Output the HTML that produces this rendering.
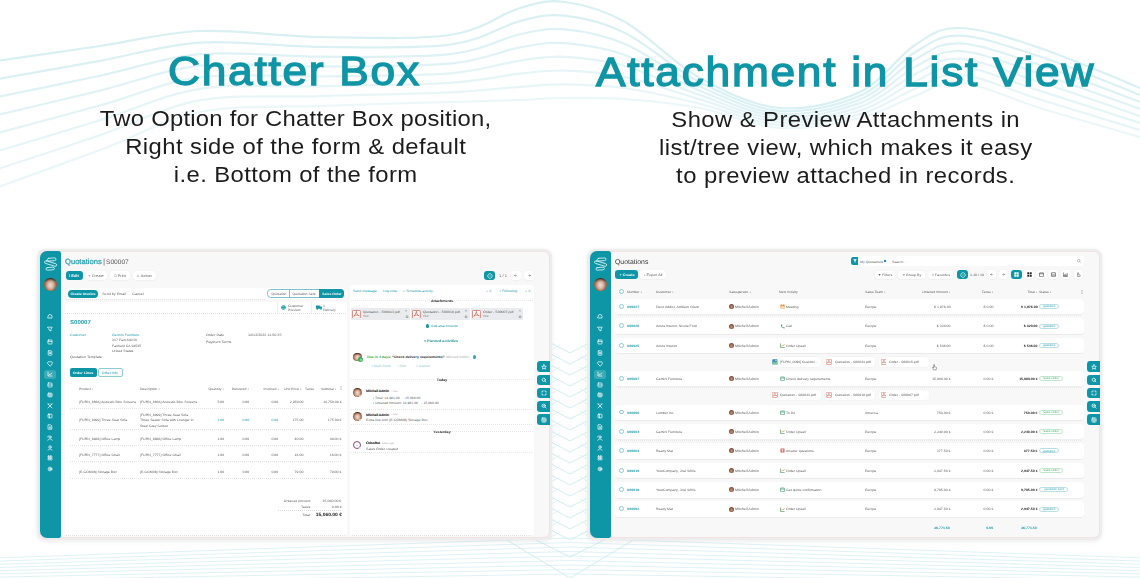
<!DOCTYPE html>
<html><head><meta charset="utf-8"><title>Chatter Box &amp; Attachment in List View</title>
<style>
*{box-sizing:border-box;margin:0;padding:0}
html,body{width:1140px;height:578px;overflow:hidden;background:#fff}
body{position:relative;font-family:"Liberation Sans",sans-serif;color:#222}
.abs{position:absolute}
.soft{position:absolute;left:0;top:0;width:1140px;height:578px;filter:blur(0.22px)}
.t{position:absolute;white-space:nowrap;line-height:1;font-family:"Liberation Sans",sans-serif;transform:scale(0.108,0.1);text-rendering:geometricPrecision}
.title{position:absolute;color:#0f95a5;font-size:41px;line-height:48px;white-space:nowrap;letter-spacing:1.6px;-webkit-text-stroke:1.35px #0f95a5;transform:scaleX(1.08);transform-origin:0 0}
.sub{position:absolute;font-size:22.5px;line-height:28.1px;color:#1c1c1c;text-align:center;white-space:nowrap}
</style></head>
<body>
<svg class="abs" style="left:0px;top:0px" width="1140" height="578" viewBox="0 0 1140 578"><defs><filter id="bl" x="-5%" y="-50%" width="110%" height="200%"><feGaussianBlur stdDeviation="0.7"/></filter></defs><path d="M-10 62 C8.33 59.33 65 51.17 100 46 C135 40.83 163.33 32.5 200 31 C236.67 29.5 278.33 36.33 320 37 C361.67 37.67 416.67 39.83 450 35 C483.33 30.17 500.83 13.5 520 8 C539.17 2.5 547.5 -0.33 565 2 C582.5 4.33 602.5 9.33 625 22 C647.5 34.67 674.17 63.67 700 78 C725.83 92.33 753.33 105.67 780 108 C806.67 110.33 837.5 102.5 860 92 C882.5 81.5 898.33 55.67 915 45 C931.67 34.33 939.17 27.5 960 28 C980.83 28.5 1008.33 37.33 1040 48 C1071.67 58.67 1131.67 84.67 1150 92" fill="none" stroke="#cdebef" stroke-width="2.2" opacity="0.75" filter="url(#bl)"/><path d="M-10 80.29 C8.33 77.05 65 67.14 100 60.86 C135 54.57 163.33 44.9 200 42.57 C236.67 40.24 278.33 46.52 320 46.86 C361.67 47.19 416.67 48.86 450 44.57 C483.33 40.29 500.83 25.95 520 21.14 C539.17 16.33 547.5 13.74 565 15.71 C582.5 17.69 602.5 21.9 625 33 C647.5 44.1 674.17 69.31 700 82.29 C725.83 95.26 753.33 108.62 780 110.86 C806.67 113.1 837.5 105.48 860 95.71 C882.5 85.95 898.33 62.29 915 52.29 C931.67 42.29 939.17 35 960 35.71 C980.83 36.43 1008.33 46.05 1040 56.57 C1071.67 67.1 1131.67 91.81 1150 98.86" fill="none" stroke="#cdebef" stroke-width="2.2" opacity="0.7" filter="url(#bl)"/><path d="M-10 98.57 C8.33 94.76 65 83.12 100 75.71 C135 68.31 163.33 57.31 200 54.14 C236.67 50.98 278.33 56.71 320 56.71 C361.67 56.71 416.67 57.88 450 54.14 C483.33 50.4 500.83 38.4 520 34.29 C539.17 30.17 547.5 27.81 565 29.43 C582.5 31.05 602.5 34.48 625 44 C647.5 53.52 674.17 74.95 700 86.57 C725.83 98.19 753.33 111.57 780 113.71 C806.67 115.86 837.5 108.45 860 99.43 C882.5 90.4 898.33 68.9 915 59.57 C931.67 50.24 939.17 42.5 960 43.43 C980.83 44.36 1008.33 54.76 1040 65.14 C1071.67 75.52 1131.67 98.95 1150 105.71" fill="none" stroke="#cdebef" stroke-width="2.2" opacity="0.65" filter="url(#bl)"/><path d="M-10 116.86 C8.33 112.48 65 99.1 100 90.57 C135 82.05 163.33 69.71 200 65.71 C236.67 61.71 278.33 66.9 320 66.57 C361.67 66.24 416.67 66.9 450 63.71 C483.33 60.52 500.83 50.86 520 47.43 C539.17 44 547.5 41.88 565 43.14 C582.5 44.4 602.5 47.05 625 55 C647.5 62.95 674.17 80.6 700 90.86 C725.83 101.12 753.33 114.52 780 116.57 C806.67 118.62 837.5 111.43 860 103.14 C882.5 94.86 898.33 75.52 915 66.86 C931.67 58.19 939.17 50 960 51.14 C980.83 52.29 1008.33 63.48 1040 73.71 C1071.67 83.95 1131.67 106.1 1150 112.57" fill="none" stroke="#cdebef" stroke-width="2.2" opacity="0.6" filter="url(#bl)"/><path d="M-10 135.14 C8.33 130.19 65 115.07 100 105.43 C135 95.79 163.33 82.12 200 77.29 C236.67 72.45 278.33 77.1 320 76.43 C361.67 75.76 416.67 75.93 450 73.29 C483.33 70.64 500.83 63.31 520 60.57 C539.17 57.83 547.5 55.95 565 56.86 C582.5 57.76 602.5 59.62 625 66 C647.5 72.38 674.17 86.24 700 95.14 C725.83 104.05 753.33 117.48 780 119.43 C806.67 121.38 837.5 114.4 860 106.86 C882.5 99.31 898.33 82.14 915 74.14 C931.67 66.14 939.17 57.5 960 58.86 C980.83 60.21 1008.33 72.19 1040 82.29 C1071.67 92.38 1131.67 113.24 1150 119.43" fill="none" stroke="#cdebef" stroke-width="2.2" opacity="0.55" filter="url(#bl)"/><path d="M-10 153.43 C8.33 147.9 65 131.05 100 120.29 C135 109.52 163.33 94.52 200 88.86 C236.67 83.19 278.33 87.29 320 86.29 C361.67 85.29 416.67 84.95 450 82.86 C483.33 80.76 500.83 75.76 520 73.71 C539.17 71.67 547.5 70.02 565 70.57 C582.5 71.12 602.5 72.19 625 77 C647.5 81.81 674.17 91.88 700 99.43 C725.83 106.98 753.33 120.43 780 122.29 C806.67 124.14 837.5 117.38 860 110.57 C882.5 103.76 898.33 88.76 915 81.43 C931.67 74.1 939.17 65 960 66.57 C980.83 68.14 1008.33 80.9 1040 90.86 C1071.67 100.81 1131.67 120.38 1150 126.29" fill="none" stroke="#cdebef" stroke-width="2.2" opacity="0.5" filter="url(#bl)"/><path d="M-10 171.71 C8.33 165.62 65 147.02 100 135.14 C135 123.26 163.33 106.93 200 100.43 C236.67 93.93 278.33 97.48 320 96.14 C361.67 94.81 416.67 93.98 450 92.43 C483.33 90.88 500.83 88.21 520 86.86 C539.17 85.5 547.5 84.1 565 84.29 C582.5 84.48 602.5 84.76 625 88 C647.5 91.24 674.17 97.52 700 103.71 C725.83 109.9 753.33 123.38 780 125.14 C806.67 126.9 837.5 120.36 860 114.29 C882.5 108.21 898.33 95.38 915 88.71 C931.67 82.05 939.17 72.5 960 74.29 C980.83 76.07 1008.33 89.62 1040 99.43 C1071.67 109.24 1131.67 127.52 1150 133.14" fill="none" stroke="#cdebef" stroke-width="2.2" opacity="0.45" filter="url(#bl)"/><path d="M-10 190 C8.33 183.33 65 163 100 150 C135 137 163.33 119.33 200 112 C236.67 104.67 278.33 107.67 320 106 C361.67 104.33 416.67 103 450 102 C483.33 101 500.83 100.67 520 100 C539.17 99.33 547.5 98.17 565 98 C582.5 97.83 602.5 97.33 625 99 C647.5 100.67 674.17 103.17 700 108 C725.83 112.83 753.33 126.33 780 128 C806.67 129.67 837.5 123.33 860 118 C882.5 112.67 898.33 102 915 96 C931.67 90 939.17 80 960 82 C980.83 84 1008.33 98.33 1040 108 C1071.67 117.67 1131.67 134.67 1150 140" fill="none" stroke="#cdebef" stroke-width="2.2" opacity="0.4" filter="url(#bl)"/><path d="M-5 558 L570 538 L1145 558" fill="none" stroke="#cdebef" stroke-width="0.8" opacity="0.8"/><path d="M-5 561.2 L570 542.5 L1145 561.2" fill="none" stroke="#cdebef" stroke-width="0.8" opacity="0.8"/><path d="M-5 564.4 L570 547 L1145 564.4" fill="none" stroke="#cdebef" stroke-width="0.8" opacity="0.8"/><path d="M-5 567.6 L570 551.5 L1145 567.6" fill="none" stroke="#cdebef" stroke-width="0.8" opacity="0.8"/><path d="M-5 570.8 L570 556 L1145 570.8" fill="none" stroke="#cdebef" stroke-width="0.8" opacity="0.8"/><path d="M-5 574 L570 560.5 L1145 574" fill="none" stroke="#cdebef" stroke-width="0.8" opacity="0.8"/><path d="M-5 577.2 L570 565 L1145 577.2" fill="none" stroke="#cdebef" stroke-width="0.8" opacity="0.8"/><path d="M-5 580.4 L570 569.5 L1145 580.4" fill="none" stroke="#cdebef" stroke-width="0.8" opacity="0.8"/><path d="M-5 583.6 L570 574 L1145 583.6" fill="none" stroke="#cdebef" stroke-width="0.8" opacity="0.8"/><path d="M549 342 L570 353 L591 342" fill="none" stroke="#cdebef" stroke-width="0.9"/><path d="M549 351 L560 345 M580 345 L591 351" fill="none" stroke="#cdebef" stroke-width="0.7" opacity="0.7"/><path d="M549 353 L570 364 L591 353" fill="none" stroke="#cdebef" stroke-width="0.9"/><path d="M549 362 L560 356 M580 356 L591 362" fill="none" stroke="#cdebef" stroke-width="0.7" opacity="0.7"/><path d="M549 364 L570 375 L591 364" fill="none" stroke="#cdebef" stroke-width="0.9"/><path d="M549 373 L560 367 M580 367 L591 373" fill="none" stroke="#cdebef" stroke-width="0.7" opacity="0.7"/><path d="M549 375 L570 386 L591 375" fill="none" stroke="#cdebef" stroke-width="0.9"/><path d="M549 384 L560 378 M580 378 L591 384" fill="none" stroke="#cdebef" stroke-width="0.7" opacity="0.7"/><path d="M549 386 L570 397 L591 386" fill="none" stroke="#cdebef" stroke-width="0.9"/><path d="M549 395 L560 389 M580 389 L591 395" fill="none" stroke="#cdebef" stroke-width="0.7" opacity="0.7"/><path d="M549 397 L570 408 L591 397" fill="none" stroke="#cdebef" stroke-width="0.9"/><path d="M549 406 L560 400 M580 400 L591 406" fill="none" stroke="#cdebef" stroke-width="0.7" opacity="0.7"/><path d="M549 408 L570 419 L591 408" fill="none" stroke="#cdebef" stroke-width="0.9"/><path d="M549 417 L560 411 M580 411 L591 417" fill="none" stroke="#cdebef" stroke-width="0.7" opacity="0.7"/><path d="M549 419 L570 430 L591 419" fill="none" stroke="#cdebef" stroke-width="0.9"/><path d="M549 428 L560 422 M580 422 L591 428" fill="none" stroke="#cdebef" stroke-width="0.7" opacity="0.7"/><path d="M549 430 L570 441 L591 430" fill="none" stroke="#cdebef" stroke-width="0.9"/><path d="M549 439 L560 433 M580 433 L591 439" fill="none" stroke="#cdebef" stroke-width="0.7" opacity="0.7"/><path d="M549 441 L570 452 L591 441" fill="none" stroke="#cdebef" stroke-width="0.9"/><path d="M549 450 L560 444 M580 444 L591 450" fill="none" stroke="#cdebef" stroke-width="0.7" opacity="0.7"/><path d="M549 452 L570 463 L591 452" fill="none" stroke="#cdebef" stroke-width="0.9"/><path d="M549 461 L560 455 M580 455 L591 461" fill="none" stroke="#cdebef" stroke-width="0.7" opacity="0.7"/><path d="M549 463 L570 474 L591 463" fill="none" stroke="#cdebef" stroke-width="0.9"/><path d="M549 472 L560 466 M580 466 L591 472" fill="none" stroke="#cdebef" stroke-width="0.7" opacity="0.7"/><path d="M549 474 L570 485 L591 474" fill="none" stroke="#cdebef" stroke-width="0.9"/><path d="M549 483 L560 477 M580 477 L591 483" fill="none" stroke="#cdebef" stroke-width="0.7" opacity="0.7"/><path d="M549 485 L570 496 L591 485" fill="none" stroke="#cdebef" stroke-width="0.9"/><path d="M549 494 L560 488 M580 488 L591 494" fill="none" stroke="#cdebef" stroke-width="0.7" opacity="0.7"/><path d="M549 496 L570 507 L591 496" fill="none" stroke="#cdebef" stroke-width="0.9"/><path d="M549 505 L560 499 M580 499 L591 505" fill="none" stroke="#cdebef" stroke-width="0.7" opacity="0.7"/><path d="M549 507 L570 518 L591 507" fill="none" stroke="#cdebef" stroke-width="0.9"/><path d="M549 516 L560 510 M580 510 L591 516" fill="none" stroke="#cdebef" stroke-width="0.7" opacity="0.7"/><path d="M549 518 L570 529 L591 518" fill="none" stroke="#cdebef" stroke-width="0.9"/><path d="M549 527 L560 521 M580 521 L591 527" fill="none" stroke="#cdebef" stroke-width="0.7" opacity="0.7"/><path d="M549 529 L570 540 L591 529" fill="none" stroke="#cdebef" stroke-width="0.9"/><path d="M549 538 L560 532 M580 532 L591 538" fill="none" stroke="#cdebef" stroke-width="0.7" opacity="0.7"/><path d="M500 536 L570 578 L640 536" fill="none" stroke="#cdebef" stroke-width="0.9"/><path d="M528 536 L570 557 L612 536" fill="none" stroke="#cdebef" stroke-width="0.9"/></svg>
<div class="title" style="left:168px;top:47.4px">Chatter Box</div>
<div class="title" style="left:595.8px;top:47.6px">Attachment in List View</div>
<div class="sub" style="left:0;width:591px;top:104.9px"><div style="letter-spacing:0.22px;text-indent:0.22px;transform:scaleX(1.06)">Two Option for Chatter Box position,</div><div style="letter-spacing:0.4px;text-indent:0.4px;transform:scaleX(1.06)">Right side of the form &amp; default</div><div style="letter-spacing:0.37px;text-indent:0.37px;transform:scaleX(1.06)">i.e. Bottom of the form</div></div>
<div class="sub" style="left:550px;width:591px;top:105.5px"><div style="letter-spacing:0.39px;text-indent:0.39px;transform:scaleX(1.06)">Show &amp; Preview Attachments in</div><div style="letter-spacing:0.46px;text-indent:0.46px;transform:scaleX(1.06)">list/tree view, which makes it easy</div><div style="letter-spacing:0.44px;text-indent:0.44px;transform:scaleX(1.06)">to preview attached in records.</div></div>
<div class="soft">
<div class="abs" style="left:40px;top:251.5px;width:509.2px;height:285.5px;background:#f8f8f8;border-radius:5px;box-shadow:0 0 0 0.7px #f4dede,0 0 0 3.2px #ededed,0 1px 4px 4px rgba(0,0,0,0.045),0 3px 6px 2px rgba(0,0,0,0.035)"></div>
<div class="abs" style="left:40px;top:251px;width:21.2px;height:286.6px;background:#0f96a6;border-radius:7px 2.5px 2.5px 7px"></div>
<svg class="abs" style="left:42px;top:255px" width="18" height="18" viewBox="0 0 18 18"><g fill="none" stroke="#e6f6f7" stroke-width="0.8" stroke-linecap="round" stroke-linejoin="round"><rect x="5.4" y="3.1" width="8.6" height="2.7" rx="1.35" transform="rotate(-4 9.7 4.45)"/><rect x="2.4" y="7.2" width="12.4" height="2.7" rx="1.35" transform="rotate(17 8.6 8.55)"/><rect x="4" y="12.4" width="8.4" height="2.6" rx="1.3" transform="rotate(-4 8.2 13.7)"/></g></svg>
<div class="abs" style="left:44.1px;top:278.4px;width:12.6px;height:12.6px;border-radius:50%;background:radial-gradient(ellipse 42% 50% at 50% 55%,#ecdcd6 0,#dcbcae 45%,rgba(200,150,120,0) 100%),linear-gradient(180deg,rgba(45,28,20,.85) 0,rgba(45,28,20,0) 32%),radial-gradient(circle at 50% 50%,#b97e5c 0,#a36a4b 60%,#6a4030 100%)"></div>
<svg class="abs" style="left:46.3px;top:312.2px" width="8" height="8" viewBox="-4 -4 8 8"><path fill="none" stroke="#fff" stroke-width="0.7" stroke-linecap="round" stroke-linejoin="round" d="M-2 0.5 A2 2 0 1 1 2 0.5 V2 H-2 Z"/></svg>
<svg class="abs" style="left:46.3px;top:325.2px" width="8" height="8" viewBox="-4 -4 8 8"><path fill="none" stroke="#fff" stroke-width="0.7" stroke-linecap="round" stroke-linejoin="round" d="M-2.2 -1.8 H2.2 L1 0.2 V2 L-1 1 V0.2 Z"/></svg>
<svg class="abs" style="left:46.3px;top:337.9px" width="8" height="8" viewBox="-4 -4 8 8"><rect fill="none" stroke="#fff" stroke-width="0.7" stroke-linecap="round" stroke-linejoin="round" x="-2" y="-2" width="4" height="4" rx="0.6"/><path fill="none" stroke="#fff" stroke-width="0.7" stroke-linecap="round" stroke-linejoin="round" d="M-2 -0.6 H2"/></svg>
<svg class="abs" style="left:46.3px;top:348.7px" width="8" height="8" viewBox="-4 -4 8 8"><rect fill="none" stroke="#fff" stroke-width="0.7" stroke-linecap="round" stroke-linejoin="round" x="-1.8" y="-2.2" width="3.6" height="4.4" rx="0.6"/><path fill="none" stroke="#fff" stroke-width="0.7" stroke-linecap="round" stroke-linejoin="round" d="M-0.8 -0.6 H0.8 M-0.8 0.6 H0.8"/></svg>
<svg class="abs" style="left:46.3px;top:359.5px" width="8" height="8" viewBox="-4 -4 8 8"><path fill="none" stroke="#fff" stroke-width="0.7" stroke-linecap="round" stroke-linejoin="round" d="M0 2 L-2.2 -0.2 A1.2 1.2 0 0 1 0 -1.8 A1.2 1.2 0 0 1 2.2 -0.2 Z"/></svg>
<div class="abs" style="left:44.3px;top:370px;width:12.2px;height:8.6px;background:rgba(255,255,255,0.18);border-radius:2.5px"></div>
<svg class="abs" style="left:46.3px;top:370.3px" width="8" height="8" viewBox="-4 -4 8 8"><path fill="none" stroke="#fff" stroke-width="0.7" stroke-linecap="round" stroke-linejoin="round" d="M-2 -2 V2 H2 M-1 1 L0 -0.2 L0.6 0.4 L1.8 -1"/></svg>
<svg class="abs" style="left:46.3px;top:380.6px" width="8" height="8" viewBox="-4 -4 8 8"><rect fill="none" stroke="#fff" stroke-width="0.7" stroke-linecap="round" stroke-linejoin="round" x="-2" y="-2" width="4" height="4" rx="0.5"/><path fill="none" stroke="#fff" stroke-width="0.7" stroke-linecap="round" stroke-linejoin="round" d="M-2 0 H2"/></svg>
<svg class="abs" style="left:46.3px;top:391.3px" width="8" height="8" viewBox="-4 -4 8 8"><rect fill="none" stroke="#fff" stroke-width="0.7" stroke-linecap="round" stroke-linejoin="round" x="-2" y="-1.8" width="4" height="3.6" rx="0.5"/><path fill="none" stroke="#fff" stroke-width="0.7" stroke-linecap="round" stroke-linejoin="round" d="M0 -1.8 V1.8 M-2 0 H2"/></svg>
<svg class="abs" style="left:46.3px;top:401.8px" width="8" height="8" viewBox="-4 -4 8 8"><path fill="none" stroke="#fff" stroke-width="0.7" stroke-linecap="round" stroke-linejoin="round" d="M-2 -2 L2 2 M2 -2 L-2 2 M-2 -2 L-1 -2 M2 -2 L1 -2"/></svg>
<svg class="abs" style="left:46.3px;top:412.3px" width="8" height="8" viewBox="-4 -4 8 8"><rect fill="none" stroke="#fff" stroke-width="0.7" stroke-linecap="round" stroke-linejoin="round" x="-2" y="-1.8" width="4" height="3.6" rx="0.4"/><path fill="none" stroke="#fff" stroke-width="0.7" stroke-linecap="round" stroke-linejoin="round" d="M-0.6 -1.8 V1.8"/></svg>
<svg class="abs" style="left:46.3px;top:422.8px" width="8" height="8" viewBox="-4 -4 8 8"><path fill="none" stroke="#fff" stroke-width="0.7" stroke-linecap="round" stroke-linejoin="round" d="M-1.6 -2.2 H0.8 L1.8 -1.2 V2.2 H-1.6 Z M-0.6 0 H0.8 M-0.6 1 H0.8"/></svg>
<svg class="abs" style="left:46.3px;top:433.6px" width="8" height="8" viewBox="-4 -4 8 8"><circle fill="none" stroke="#fff" stroke-width="0.7" stroke-linecap="round" stroke-linejoin="round" cx="0" cy="-1" r="1.1"/><path fill="none" stroke="#fff" stroke-width="0.7" stroke-linecap="round" stroke-linejoin="round" d="M-2.2 2.2 C-2 0.4 2 0.4 2.2 2.2 M-1.8 -2 L-2.4 -1"/></svg>
<svg class="abs" style="left:46.3px;top:444.2px" width="8" height="8" viewBox="-4 -4 8 8"><circle fill="none" stroke="#fff" stroke-width="0.7" stroke-linecap="round" stroke-linejoin="round" cx="0" cy="-1" r="1.2"/><path fill="none" stroke="#fff" stroke-width="0.7" stroke-linecap="round" stroke-linejoin="round" d="M-2 2.2 C-1.8 0.5 1.8 0.5 2 2.2"/></svg>
<svg class="abs" style="left:46.3px;top:454.4px" width="8" height="8" viewBox="-4 -4 8 8"><rect fill="none" stroke="#fff" stroke-width="0.7" stroke-linecap="round" stroke-linejoin="round" x="-2" y="-2" width="1.7" height="1.7" rx="0.4"/><rect fill="none" stroke="#fff" stroke-width="0.7" stroke-linecap="round" stroke-linejoin="round" x="0.3" y="-2" width="1.7" height="1.7" rx="0.4"/><rect fill="none" stroke="#fff" stroke-width="0.7" stroke-linecap="round" stroke-linejoin="round" x="-2" y="0.3" width="1.7" height="1.7" rx="0.4"/><rect fill="none" stroke="#fff" stroke-width="0.7" stroke-linecap="round" stroke-linejoin="round" x="0.3" y="0.3" width="1.7" height="1.7" rx="0.4"/></svg>
<svg class="abs" style="left:46.3px;top:465.2px" width="8" height="8" viewBox="-4 -4 8 8"><circle fill="none" stroke="#fff" stroke-width="0.7" stroke-linecap="round" stroke-linejoin="round" cx="0" cy="0" r="1.9"/><circle fill="none" stroke="#fff" stroke-width="0.7" stroke-linecap="round" stroke-linejoin="round" cx="0" cy="0" r="0.7"/></svg>
<div class="abs" style="left:537px;top:361.4px;width:12.8px;height:10.5px;background:#0f96a6;border-radius:3px 0 0 3px"></div>
<svg class="abs" style="left:539.6px;top:362.65px" width="8" height="8" viewBox="-4 -4 8 8"><path fill="none" stroke="#fff" stroke-width="0.7" stroke-linejoin="round" stroke-linecap="round" d="M0 -2.3 L0.7 -0.7 L2.3 -0.6 L1.1 0.5 L1.5 2.2 L0 1.3 L-1.5 2.2 L-1.1 0.5 L-2.3 -0.6 L-0.7 -0.7 Z"/></svg>
<div class="abs" style="left:537px;top:374.9px;width:12.8px;height:10px;background:#0f96a6;border-radius:3px 0 0 3px"></div>
<svg class="abs" style="left:539.6px;top:375.9px" width="8" height="8" viewBox="-4 -4 8 8"><circle fill="none" stroke="#fff" stroke-width="0.7" stroke-linejoin="round" stroke-linecap="round" cx="-0.2" cy="-0.2" r="1.6"/><path fill="none" stroke="#fff" stroke-width="0.7" stroke-linejoin="round" stroke-linecap="round" d="M1 1 L2 2"/></svg>
<div class="abs" style="left:537px;top:388.2px;width:12.8px;height:10px;background:#0f96a6;border-radius:3px 0 0 3px"></div>
<svg class="abs" style="left:539.6px;top:389.2px" width="8" height="8" viewBox="-4 -4 8 8"><path fill="none" stroke="#fff" stroke-width="0.7" stroke-linejoin="round" stroke-linecap="round" d="M-2 -0.8 V-2 H-0.8 M0.8 -2 H2 V-0.8 M2 0.8 V2 H0.8 M-0.8 2 H-2 V0.8"/></svg>
<div class="abs" style="left:537px;top:401.2px;width:12.8px;height:10.4px;background:#0f96a6;border-radius:3px 0 0 3px"></div>
<svg class="abs" style="left:539.6px;top:402.4px" width="8" height="8" viewBox="-4 -4 8 8"><circle fill="none" stroke="#fff" stroke-width="0.7" stroke-linejoin="round" stroke-linecap="round" cx="-0.3" cy="-0.3" r="1.7"/><path fill="none" stroke="#fff" stroke-width="0.7" stroke-linejoin="round" stroke-linecap="round" d="M1 1 L2.1 2.1 M-1 -0.3 H0.4"/></svg>
<div class="abs" style="left:537px;top:414.4px;width:12.8px;height:10.4px;background:#0f96a6;border-radius:3px 0 0 3px"></div>
<svg class="abs" style="left:539.6px;top:415.6px" width="8" height="8" viewBox="-4 -4 8 8"><rect fill="none" stroke="#fff" stroke-width="0.7" stroke-linejoin="round" stroke-linecap="round" x="-2" y="-2" width="4" height="4" rx="0.4"/><path fill="none" stroke="#fff" stroke-width="0.7" stroke-linejoin="round" stroke-linecap="round" d="M0 -2 V2 M-2 0 H2"/></svg>
<div class="t" style="top:257.7px;font-size:76px;color:#1a9aab;left:65.4px;transform-origin:0 0;transform:scale(0.1);-webkit-text-stroke:2px #1a9aab">Quotations</div>
<div class="t" style="top:257.7px;font-size:76px;color:#5f5f5f;left:102.6px;transform-origin:0 0;">|</div>
<div class="t" style="top:258.3px;font-size:66px;color:#555;left:105.8px;transform-origin:0 0;transform:scale(0.1)">S00007</div>
<div class="abs" style="left:65.5px;top:271px;width:17.6px;height:8.7px;background:#0f96a6;border-radius:3px;"></div>
<div class="t" style="top:273.55px;font-size:37px;color:#fff;font-weight:700;left:68.7px;transform-origin:0 0;">/ Edit</div>
<div class="abs" style="left:85.9px;top:271px;width:20.8px;height:8.7px;background:#fff;border-radius:3px;box-shadow:0 0.3px 1.2px rgba(0,0,0,0.1)"></div>
<div class="t" style="top:273.55px;font-size:37px;color:#5f5f5f;left:-4903.7px;width:10000px;text-align:center;transform-origin:50% 0;">+ Create</div>
<div class="abs" style="left:110px;top:271px;width:19.8px;height:8.7px;background:#fff;border-radius:3px;box-shadow:0 0.3px 1.2px rgba(0,0,0,0.1)"></div>
<div class="t" style="top:273.55px;font-size:37px;color:#5f5f5f;left:-4880.1px;width:10000px;text-align:center;transform-origin:50% 0;">□ Print</div>
<div class="abs" style="left:133px;top:271px;width:22.7px;height:8.7px;background:#fff;border-radius:3px;box-shadow:0 0.3px 1.2px rgba(0,0,0,0.1)"></div>
<div class="t" style="top:273.55px;font-size:37px;color:#5f5f5f;left:-4855.65px;width:10000px;text-align:center;transform-origin:50% 0;">☼ Action</div>
<div class="abs" style="left:484px;top:271px;width:11.2px;height:9.1px;background:#0f96a6;border-radius:3px;"></div>
<svg class="abs" style="left:486.6px;top:272.6px" width="6" height="6" viewBox="0 0 6 6"><path d="M0.6 3 C1.5 1.1 2.2 0.6 3 0.6 C3.8 0.6 4.5 1.1 5.4 3 C4.5 4.9 3.8 5.4 3 5.4 C2.2 5.4 1.5 4.9 0.6 3 Z" fill="none" stroke="#e8f6f7" stroke-width="0.75"/><ellipse cx="3" cy="3" rx="0.5" ry="1.3" fill="#e8f6f7" opacity="0.5"/></svg>
<div class="t" style="top:273.6px;font-size:38px;color:#5f5f5f;left:-4497px;width:10000px;text-align:center;transform-origin:50% 0;">1 / 1</div>
<div class="abs" style="left:511px;top:271px;width:9.5px;height:9.1px;background:#fff;border-radius:3px;box-shadow:0 0.3px 1.2px rgba(0,0,0,0.1)"></div>
<svg class="abs" style="left:514.3px;top:274px" width="3" height="3" viewBox="0 0 3 3"><path d="M2.6 1.5 H0.4 M1.4 0.5 L0.4 1.5 L1.4 2.5" fill="none" stroke="#444" stroke-width="0.45"/></svg>
<div class="abs" style="left:524.3px;top:271px;width:9.5px;height:9.1px;background:#fff;border-radius:3px;box-shadow:0 0.3px 1.2px rgba(0,0,0,0.1)"></div>
<svg class="abs" style="left:527.5px;top:274px" width="3" height="3" viewBox="0 0 3 3"><path d="M0.4 1.5 H2.6 M1.6 0.5 L2.6 1.5 L1.6 2.5" fill="none" stroke="#444" stroke-width="0.45"/></svg>
<div class="abs" style="left:65.8px;top:288.4px;width:281.2px;height:10.9px;background:#fff;border-radius:3px 3px 0 0"></div>
<div class="abs" style="left:66px;top:299px;width:200px;height:1px;background:repeating-linear-gradient(90deg,#e2e2e2 0 1px,transparent 1px 2px)"></div>
<div class="abs" style="left:68px;top:290px;width:30.1px;height:7.6px;background:#0f96a6;border-radius:3px;border-radius:3.8px"></div>
<div class="t" style="top:292.2px;font-size:34px;color:#fff;font-weight:700;left:-4917px;width:10000px;text-align:center;transform-origin:50% 0;">Create Invoice</div>
<div class="abs" style="left:100.8px;top:290px;width:26.8px;height:7.6px;background:#fff;border-radius:3px;border-radius:3.8px"></div>
<div class="t" style="top:292.2px;font-size:34px;color:#5f5f5f;left:-4885.8px;width:10000px;text-align:center;transform-origin:50% 0;">Send by Email</div>
<div class="abs" style="left:129.3px;top:290px;width:17.3px;height:7.6px;background:#fff;border-radius:3px;border-radius:3.8px"></div>
<div class="t" style="top:292.2px;font-size:34px;color:#5f5f5f;left:-4862px;width:10000px;text-align:center;transform-origin:50% 0;">Cancel</div>
<div class="abs" style="left:267.4px;top:289.4px;width:76.8px;height:9px;border:0.6px solid #7cc3cb;border-radius:3.6px;background:#fff"></div>
<div class="abs" style="left:289.4px;top:289.4px;width:0.5px;height:9px;background:#7cc3cb"></div>
<div class="abs" style="left:319px;top:289.4px;width:25.2px;height:9px;background:#0f96a6;border-radius:0 3.6px 3.6px 0"></div>
<div class="t" style="top:292.3px;font-size:32px;color:#5f5f5f;left:-4721.5px;width:10000px;text-align:center;transform-origin:50% 0;">Quotation</div>
<div class="t" style="top:292.3px;font-size:32px;color:#5f5f5f;left:-4695.7px;width:10000px;text-align:center;transform-origin:50% 0;">Quotation Sent</div>
<div class="t" style="top:292.3px;font-size:32px;color:#fff;font-weight:700;left:-4668.4px;width:10000px;text-align:center;transform-origin:50% 0;">Sales Order</div>
<div class="abs" style="left:64.8px;top:301.7px;width:282.4px;height:234.7px;background:#fff;border-radius:4px"></div>
<div class="abs" style="left:65px;top:313px;width:282px;height:1px;background:repeating-linear-gradient(90deg,#e0e0e0 0 1px,transparent 1px 2px)"></div>
<div class="abs" style="left:66px;top:535px;width:279px;height:1px;background:repeating-linear-gradient(90deg,#e2e2e2 0 1px,transparent 1px 2px)"></div>
<div class="abs" style="left:276.8px;top:302px;width:0.4px;height:11.2px;background:#eee"></div>
<div class="abs" style="left:311.2px;top:302px;width:0.4px;height:11.2px;background:#eee"></div>
<svg class="abs" style="left:280.8px;top:305.3px" width="5" height="5" viewBox="0 0 5 5"><circle cx="2.5" cy="2.5" r="2.3" fill="#0f96a6"/><path d="M1 1.5 C2 2 2.6 1 3.6 2 M1.4 3.6 C2.4 3 3.2 4 4 3.2" stroke="#fff" stroke-width="0.5" fill="none"/></svg>
<div class="t" style="top:303.55px;font-size:33px;color:#666;left:288px;transform-origin:0 0;">Customer</div>
<div class="t" style="top:307.75px;font-size:33px;color:#666;left:288px;transform-origin:0 0;">Preview</div>
<svg class="abs" style="left:315.5px;top:305.4px" width="6.5" height="4.8" viewBox="0 0 6.5 4.8"><path d="M0 0.4 H3.8 V3.8 H0 Z M3.8 1.4 H5.4 L6.4 2.6 V3.8 H3.8 Z" fill="#0f96a6"/><circle cx="1.3" cy="4" r="0.8" fill="#0f96a6"/><circle cx="5" cy="4" r="0.8" fill="#0f96a6"/></svg>
<div class="t" style="top:303.55px;font-size:33px;color:#666;left:323.3px;transform-origin:0 0;">1</div>
<div class="t" style="top:307.75px;font-size:33px;color:#666;left:323.3px;transform-origin:0 0;">Delivery</div>
<div class="t" style="top:319px;font-size:56px;color:#1a9aab;font-weight:700;left:69.6px;transform-origin:0 0;">S00007</div>
<div class="t" style="top:333px;font-size:34px;color:#1a9aab;left:69.5px;transform-origin:0 0;">Customer</div>
<div class="t" style="top:333px;font-size:34px;color:#1a9aab;left:111.6px;transform-origin:0 0;">Gemini Furniture</div>
<div class="t" style="top:338.35px;font-size:33px;color:#5f5f5f;left:111.6px;transform-origin:0 0;">317 Fairchild Dr</div>
<div class="t" style="top:343.65px;font-size:33px;color:#5f5f5f;left:111.6px;transform-origin:0 0;">Fairfield CA 94535</div>
<div class="t" style="top:348.95px;font-size:33px;color:#5f5f5f;left:111.6px;transform-origin:0 0;">United States</div>
<div class="t" style="top:355.2px;font-size:34px;color:#5f5f5f;left:69.5px;transform-origin:0 0;">Quotation Template</div>
<div class="t" style="top:333px;font-size:34px;color:#5f5f5f;left:206px;transform-origin:0 0;">Order Date</div>
<div class="t" style="top:333px;font-size:34px;color:#5f5f5f;left:248px;transform-origin:0 0;">10/12/2022 11:50:25</div>
<div class="t" style="top:339.7px;font-size:34px;color:#5f5f5f;left:206px;transform-origin:0 0;">Payment Terms</div>
<div class="abs" style="left:69.9px;top:367.9px;width:27px;height:9.2px;background:#0f96a6;border-radius:2px"></div>
<div class="t" style="top:370.8px;font-size:34px;color:#fff;font-weight:700;left:-4916.6px;width:10000px;text-align:center;transform-origin:50% 0;">Order Lines</div>
<div class="abs" style="left:98px;top:367.9px;width:24.6px;height:9.2px;border:0.6px solid #8fcbd2;border-radius:2px;background:#fff"></div>
<div class="t" style="top:370.8px;font-size:34px;color:#1a9aab;left:-4889.7px;width:10000px;text-align:center;transform-origin:50% 0;">Other Info</div>
<div class="t" style="top:386.7px;font-size:32px;color:#666;left:79.2px;transform-origin:0 0;">Product ↕</div>
<div class="t" style="top:386.7px;font-size:32px;color:#666;left:140.1px;transform-origin:0 0;">Description ↕</div>
<div class="t" style="top:386.7px;font-size:32px;color:#666;right:915.8px;transform-origin:100% 0;">Quantity ↕</div>
<div class="t" style="top:386.7px;font-size:32px;color:#666;right:891.2px;transform-origin:100% 0;">Delivered ↕</div>
<div class="t" style="top:386.7px;font-size:32px;color:#666;right:861.3px;transform-origin:100% 0;">Invoiced ↕</div>
<div class="t" style="top:386.7px;font-size:32px;color:#666;left:284.3px;transform-origin:0 0;">Unit Price ↕</div>
<div class="t" style="top:386.7px;font-size:32px;color:#666;left:305px;transform-origin:0 0;">Taxes</div>
<div class="t" style="top:386.7px;font-size:32px;color:#666;left:320.8px;transform-origin:0 0;">Subtotal ↕</div>
<svg class="abs" style="left:339.6px;top:386.3px" width="2" height="4" viewBox="0 0 2 4"><circle cx="1" cy="0.6" r="0.42" fill="#444"/><circle cx="1" cy="2" r="0.42" fill="#444"/><circle cx="1" cy="3.4" r="0.42" fill="#444"/></svg>
<div class="t" style="top:399.88px;font-size:32.5px;color:#5f5f5f;left:79.2px;transform-origin:0 0;">[FURN_6666] Acoustic Bloc Screens</div>
<div class="t" style="top:399.88px;font-size:32.5px;color:#5f5f5f;left:140.1px;transform-origin:0 0;">[FURN_6666] Acoustic Bloc Screens</div>
<div class="t" style="top:399.88px;font-size:32.5px;color:#5f5f5f;right:915.8px;transform-origin:100% 0;">5.00</div>
<div class="t" style="top:399.88px;font-size:32.5px;color:#5f5f5f;right:891.2px;transform-origin:100% 0;">0.00</div>
<div class="t" style="top:399.88px;font-size:32.5px;color:#5f5f5f;right:861.3px;transform-origin:100% 0;">0.00</div>
<div class="t" style="top:399.88px;font-size:32.5px;color:#5f5f5f;right:836.5px;transform-origin:100% 0;">2,950.00</div>
<div class="t" style="top:399.88px;font-size:32.5px;color:#5f5f5f;right:798.7px;transform-origin:100% 0;">14,750.00 €</div>
<div class="t" style="top:418.48px;font-size:32.5px;color:#5f5f5f;left:79.2px;transform-origin:0 0;">[FURN_8999] Three-Seat Sofa</div>
<div class="t" style="top:413.08px;font-size:32.5px;color:#5f5f5f;left:140.1px;transform-origin:0 0;">[FURN_8999] Three-Seat Sofa</div>
<div class="t" style="top:418.48px;font-size:32.5px;color:#5f5f5f;left:140.1px;transform-origin:0 0;">Three Seater Sofa with Lounger in</div>
<div class="t" style="top:423.88px;font-size:32.5px;color:#5f5f5f;left:140.1px;transform-origin:0 0;">Steel Grey Colour</div>
<div class="t" style="top:418.48px;font-size:32.5px;color:#1a9aab;right:915.8px;transform-origin:100% 0;">1.00</div>
<div class="t" style="top:418.48px;font-size:32.5px;color:#1a9aab;right:891.2px;transform-origin:100% 0;">0.00</div>
<div class="t" style="top:418.48px;font-size:32.5px;color:#1a9aab;right:861.3px;transform-origin:100% 0;">0.00</div>
<div class="t" style="top:418.48px;font-size:32.5px;color:#5f5f5f;right:836.5px;transform-origin:100% 0;">175.00</div>
<div class="t" style="top:418.48px;font-size:32.5px;color:#5f5f5f;right:798.7px;transform-origin:100% 0;">175.00 €</div>
<div class="t" style="top:436.88px;font-size:32.5px;color:#5f5f5f;left:79.2px;transform-origin:0 0;">[FURN_8888] Office Lamp</div>
<div class="t" style="top:436.88px;font-size:32.5px;color:#5f5f5f;left:140.1px;transform-origin:0 0;">[FURN_8888] Office Lamp</div>
<div class="t" style="top:436.88px;font-size:32.5px;color:#5f5f5f;right:915.8px;transform-origin:100% 0;">1.00</div>
<div class="t" style="top:436.88px;font-size:32.5px;color:#5f5f5f;right:891.2px;transform-origin:100% 0;">0.00</div>
<div class="t" style="top:436.88px;font-size:32.5px;color:#5f5f5f;right:861.3px;transform-origin:100% 0;">0.00</div>
<div class="t" style="top:436.88px;font-size:32.5px;color:#5f5f5f;right:836.5px;transform-origin:100% 0;">40.00</div>
<div class="t" style="top:436.88px;font-size:32.5px;color:#5f5f5f;right:798.7px;transform-origin:100% 0;">40.00 €</div>
<div class="t" style="top:453.07px;font-size:32.5px;color:#5f5f5f;left:79.2px;transform-origin:0 0;">[FURN_7777] Office Chair</div>
<div class="t" style="top:453.07px;font-size:32.5px;color:#5f5f5f;left:140.1px;transform-origin:0 0;">[FURN_7777] Office Chair</div>
<div class="t" style="top:453.07px;font-size:32.5px;color:#5f5f5f;right:915.8px;transform-origin:100% 0;">1.00</div>
<div class="t" style="top:453.07px;font-size:32.5px;color:#5f5f5f;right:891.2px;transform-origin:100% 0;">0.00</div>
<div class="t" style="top:453.07px;font-size:32.5px;color:#5f5f5f;right:861.3px;transform-origin:100% 0;">0.00</div>
<div class="t" style="top:453.07px;font-size:32.5px;color:#5f5f5f;right:836.5px;transform-origin:100% 0;">16.00</div>
<div class="t" style="top:453.07px;font-size:32.5px;color:#5f5f5f;right:798.7px;transform-origin:100% 0;">16.00 €</div>
<div class="t" style="top:469.57px;font-size:32.5px;color:#5f5f5f;left:79.2px;transform-origin:0 0;">[E-COM08] Storage Box</div>
<div class="t" style="top:469.57px;font-size:32.5px;color:#5f5f5f;left:140.1px;transform-origin:0 0;">[E-COM08] Storage Box</div>
<div class="t" style="top:469.57px;font-size:32.5px;color:#5f5f5f;right:915.8px;transform-origin:100% 0;">1.00</div>
<div class="t" style="top:469.57px;font-size:32.5px;color:#5f5f5f;right:891.2px;transform-origin:100% 0;">0.00</div>
<div class="t" style="top:469.57px;font-size:32.5px;color:#5f5f5f;right:861.3px;transform-origin:100% 0;">0.00</div>
<div class="t" style="top:469.57px;font-size:32.5px;color:#5f5f5f;right:836.5px;transform-origin:100% 0;">79.00</div>
<div class="t" style="top:469.57px;font-size:32.5px;color:#5f5f5f;right:798.7px;transform-origin:100% 0;">79.00 €</div>
<div class="abs" style="left:70px;top:408px;width:271px;height:1px;background:repeating-linear-gradient(90deg,#e4e4e4 0 1px,transparent 1px 2px)"></div>
<div class="abs" style="left:70px;top:429px;width:271px;height:1px;background:repeating-linear-gradient(90deg,#e4e4e4 0 1px,transparent 1px 2px)"></div>
<div class="abs" style="left:70px;top:445px;width:271px;height:1px;background:repeating-linear-gradient(90deg,#e4e4e4 0 1px,transparent 1px 2px)"></div>
<div class="abs" style="left:70px;top:461px;width:271px;height:1px;background:repeating-linear-gradient(90deg,#e4e4e4 0 1px,transparent 1px 2px)"></div>
<div class="abs" style="left:70px;top:478px;width:271px;height:1px;background:repeating-linear-gradient(90deg,#e4e4e4 0 1px,transparent 1px 2px)"></div>
<div class="t" style="top:498.55px;font-size:33px;color:#5f5f5f;right:828.7px;transform-origin:100% 0;">Untaxed Amount:</div>
<div class="t" style="top:498.55px;font-size:33px;color:#5f5f5f;right:798.2px;transform-origin:100% 0;">15,060.00 €</div>
<div class="t" style="top:504.75px;font-size:33px;color:#5f5f5f;right:828.7px;transform-origin:100% 0;">Taxes:</div>
<div class="t" style="top:504.75px;font-size:33px;color:#5f5f5f;right:798.2px;transform-origin:100% 0;">0.00 €</div>
<div class="abs" style="left:278px;top:510px;width:64px;height:1px;background:repeating-linear-gradient(90deg,#dcdcdc 0 1px,transparent 1px 2px)"></div>
<div class="t" style="top:512.55px;font-size:33px;color:#5f5f5f;right:828.7px;transform-origin:100% 0;">Total:</div>
<div class="t" style="top:511.9px;font-size:46px;color:#222;font-weight:700;right:798.2px;transform-origin:100% 0;">15,060.00 €</div>
<div class="abs" style="left:350px;top:285.4px;width:184px;height:251px;background:#fff;border-radius:4px"></div>
<div class="abs" style="left:352px;top:535px;width:180px;height:1px;background:repeating-linear-gradient(90deg,#e2e2e2 0 1px,transparent 1px 2px)"></div>
<div class="t" style="top:288.75px;font-size:33px;color:#1a9aab;left:352.9px;transform-origin:0 0;">Send message</div>
<div class="t" style="top:288.75px;font-size:33px;color:#1a9aab;left:382.8px;transform-origin:0 0;">Log note</div>
<div class="t" style="top:288.75px;font-size:33px;color:#1a9aab;left:403.4px;transform-origin:0 0;">○ Schedule activity</div>
<div class="t" style="top:288.75px;font-size:33px;color:#1a9aab;left:486px;transform-origin:0 0;">○ 3</div>
<div class="t" style="top:288.75px;font-size:33px;color:#1a9aab;left:499px;transform-origin:0 0;">√ Following</div>
<div class="t" style="top:288.75px;font-size:33px;color:#1a9aab;left:524.7px;transform-origin:0 0;">○ 3</div>
<div class="abs" style="left:351px;top:300px;width:79px;height:1px;background:repeating-linear-gradient(90deg,#e8e8e8 0 1px,transparent 1px 2px)"></div>
<div class="abs" style="left:454px;top:300px;width:79px;height:1px;background:repeating-linear-gradient(90deg,#e8e8e8 0 1px,transparent 1px 2px)"></div>
<div class="t" style="top:298.9px;font-size:34px;color:#222;font-weight:700;left:-4558.2px;width:10000px;text-align:center;transform-origin:50% 0;">Attachments</div>
<div class="abs" style="left:351px;top:308.4px;width:58.8px;height:11.5px;background:#e9ebee;border-radius:1px"></div>
<svg class="abs" style="left:352.1px;top:309.7px" width="8.8" height="8.8" viewBox="0 0 10 10"><rect x="0.5" y="0.5" width="9" height="9" rx="1" fill="#fff" stroke="#d06a5e" stroke-width="0.9"/><path d="M5 2 C4.4 3.6 3.6 5.4 2.4 7.2 M5 2 C5.2 4 6.2 5.8 7.8 6.6 M2.8 6.3 C4 5.8 6 5.6 7.6 6.2" fill="none" stroke="#c8584a" stroke-width="0.8" stroke-linecap="round"/></svg>
<div class="t" style="top:309.95px;font-size:33px;color:#5f5f5f;left:362.5px;transform-origin:0 0;">Quotation - S00023.pdf</div>
<div class="t" style="top:315.1px;font-size:26px;color:#777;left:362.5px;transform-origin:0 0;">PDF</div>
<div class="t" style="top:309.4px;font-size:36px;color:#5f5f5f;left:-4593.6px;width:10000px;text-align:center;transform-origin:50% 0;">×</div>
<svg class="abs" style="left:404.5px;top:314.6px" width="4" height="3.5" viewBox="0 0 4 3.5"><path d="M0.4 3.2 H3.6 M2 0.2 V2.4 M1 1.5 L2 2.5 L3 1.5" stroke="#555" stroke-width="0.5" fill="none"/></svg>
<div class="abs" style="left:411px;top:308.4px;width:58.7px;height:11.5px;background:#e9ebee;border-radius:1px"></div>
<svg class="abs" style="left:412.1px;top:309.7px" width="8.8" height="8.8" viewBox="0 0 10 10"><rect x="0.5" y="0.5" width="9" height="9" rx="1" fill="#fff" stroke="#d06a5e" stroke-width="0.9"/><path d="M5 2 C4.4 3.6 3.6 5.4 2.4 7.2 M5 2 C5.2 4 6.2 5.8 7.8 6.6 M2.8 6.3 C4 5.8 6 5.6 7.6 6.2" fill="none" stroke="#c8584a" stroke-width="0.8" stroke-linecap="round"/></svg>
<div class="t" style="top:309.95px;font-size:33px;color:#5f5f5f;left:422.5px;transform-origin:0 0;">Quotation - S00010.pdf</div>
<div class="t" style="top:315.1px;font-size:26px;color:#777;left:422.5px;transform-origin:0 0;">PDF</div>
<div class="t" style="top:309.4px;font-size:36px;color:#5f5f5f;left:-4533.7px;width:10000px;text-align:center;transform-origin:50% 0;">×</div>
<svg class="abs" style="left:464.4px;top:314.6px" width="4" height="3.5" viewBox="0 0 4 3.5"><path d="M0.4 3.2 H3.6 M2 0.2 V2.4 M1 1.5 L2 2.5 L3 1.5" stroke="#555" stroke-width="0.5" fill="none"/></svg>
<div class="abs" style="left:471.2px;top:308.4px;width:51.8px;height:11.5px;background:#e9ebee;border-radius:1px"></div>
<svg class="abs" style="left:472.3px;top:309.7px" width="8.8" height="8.8" viewBox="0 0 10 10"><rect x="0.5" y="0.5" width="9" height="9" rx="1" fill="#fff" stroke="#d06a5e" stroke-width="0.9"/><path d="M5 2 C4.4 3.6 3.6 5.4 2.4 7.2 M5 2 C5.2 4 6.2 5.8 7.8 6.6 M2.8 6.3 C4 5.8 6 5.6 7.6 6.2" fill="none" stroke="#c8584a" stroke-width="0.8" stroke-linecap="round"/></svg>
<div class="t" style="top:309.95px;font-size:33px;color:#5f5f5f;left:482.7px;transform-origin:0 0;">Order - S00007.pdf</div>
<div class="t" style="top:315.1px;font-size:26px;color:#777;left:482.7px;transform-origin:0 0;">PDF</div>
<div class="t" style="top:309.4px;font-size:36px;color:#5f5f5f;left:-4480.4px;width:10000px;text-align:center;transform-origin:50% 0;">×</div>
<svg class="abs" style="left:517.7px;top:314.6px" width="4" height="3.5" viewBox="0 0 4 3.5"><path d="M0.4 3.2 H3.6 M2 0.2 V2.4 M1 1.5 L2 2.5 L3 1.5" stroke="#555" stroke-width="0.5" fill="none"/></svg>
<div class="abs" style="left:426.1px;top:324.2px;width:3.4px;height:3.4px;border-radius:50%;background:#0f96a6"></div>
<div class="t" style="top:324.25px;font-size:33px;color:#1a9aab;left:430.6px;transform-origin:0 0;">Add attachments</div>
<div class="t" style="top:339px;font-size:34px;color:#17909c;font-weight:700;left:-4558.7px;width:10000px;text-align:center;transform-origin:50% 0;">˅ Planned activities</div>
<div class="abs" style="left:352.9px;top:352.5px;width:8.8px;height:8.8px;border-radius:50%;background:radial-gradient(ellipse 42% 50% at 50% 55%,#ecdcd6 0,#dcbcae 45%,rgba(200,150,120,0) 100%),linear-gradient(180deg,rgba(45,28,20,.85) 0,rgba(45,28,20,0) 32%),radial-gradient(circle at 50% 50%,#b97e5c 0,#a36a4b 60%,#6a4030 100%)"></div>
<div class="abs" style="left:358.1px;top:357.4px;width:5px;height:5px;border-radius:50%;background:#2bab4f"></div>
<svg class="abs" style="left:358.6px;top:357.9px" width="4" height="4" viewBox="0 0 4 4"><circle cx="2" cy="2" r="1.1" fill="none" stroke="#fff" stroke-width="0.45"/><path d="M2 1.4 V2 L2.5 2.3" stroke="#fff" stroke-width="0.35" fill="none"/></svg>
<div class="t" style="top:355.35px;font-size:33px;color:#28a745;font-weight:700;left:366.9px;transform-origin:0 0;">Due in 4 days:</div>
<div class="t" style="top:355.35px;font-size:33px;color:#222;font-weight:700;left:391.7px;transform-origin:0 0;">“Check delivery requirements”</div>
<div class="t" style="top:355.35px;font-size:33px;color:#aaa;left:441.4px;transform-origin:0 0;">for Mitchell Admin</div>
<div class="abs" style="left:473px;top:355.4px;width:3.2px;height:3.2px;border-radius:50%;background:#3aa6b8"></div>
<div class="t" style="top:364.4px;font-size:32px;color:#8cc8cf;left:370.8px;transform-origin:0 0;">√ Mark Done</div>
<div class="t" style="top:364.4px;font-size:32px;color:#8cc8cf;left:397.7px;transform-origin:0 0;">/ Edit</div>
<div class="t" style="top:364.4px;font-size:32px;color:#8cc8cf;left:415.6px;transform-origin:0 0;">× Cancel</div>
<div class="abs" style="left:351px;top:379px;width:83px;height:1px;background:repeating-linear-gradient(90deg,#e8e8e8 0 1px,transparent 1px 2px)"></div>
<div class="abs" style="left:449px;top:379px;width:84px;height:1px;background:repeating-linear-gradient(90deg,#e8e8e8 0 1px,transparent 1px 2px)"></div>
<div class="t" style="top:377.8px;font-size:34px;color:#222;font-weight:700;left:-4558.4px;width:10000px;text-align:center;transform-origin:50% 0;">Today</div>
<div class="abs" style="left:352.9px;top:388.3px;width:8.8px;height:8.8px;border-radius:50%;background:radial-gradient(ellipse 42% 50% at 50% 55%,#ecdcd6 0,#dcbcae 45%,rgba(200,150,120,0) 100%),linear-gradient(180deg,rgba(45,28,20,.85) 0,rgba(45,28,20,0) 32%),radial-gradient(circle at 50% 50%,#b97e5c 0,#a36a4b 60%,#6a4030 100%)"></div>
<div class="abs" style="left:359.1px;top:394.6px;width:2.4px;height:2.4px;border-radius:50%;background:#0f96a6;border:0.4px solid #fff"></div>
<div class="t" style="top:389.15px;font-size:33px;color:#2a2a2a;left:365.9px;transform-origin:0 0;-webkit-text-stroke:1.6px #2a2a2a">Mitchell Admin</div>
<div class="t" style="top:389.5px;font-size:26px;color:#aaa;left:390.5px;transform-origin:0 0;">- now</div>
<div class="t" style="top:396px;font-size:32px;color:#5f5f5f;left:372.8px;transform-origin:0 0;">•  Total: 14,981.00 → 15,060.00</div>
<div class="t" style="top:401.2px;font-size:32px;color:#5f5f5f;left:372.8px;transform-origin:0 0;">•  Untaxed Amount: 14,981.00 → 15,060.00</div>
<div class="abs" style="left:351px;top:409px;width:182px;height:1px;background:repeating-linear-gradient(90deg,#e6e6e6 0 1px,transparent 1px 2px)"></div>
<div class="abs" style="left:352.9px;top:412.2px;width:8.8px;height:8.8px;border-radius:50%;background:radial-gradient(ellipse 42% 50% at 50% 55%,#ecdcd6 0,#dcbcae 45%,rgba(200,150,120,0) 100%),linear-gradient(180deg,rgba(45,28,20,.85) 0,rgba(45,28,20,0) 32%),radial-gradient(circle at 50% 50%,#b97e5c 0,#a36a4b 60%,#6a4030 100%)"></div>
<div class="abs" style="left:359.1px;top:418.5px;width:2.4px;height:2.4px;border-radius:50%;background:#0f96a6;border:0.4px solid #fff"></div>
<div class="t" style="top:413.05px;font-size:33px;color:#2a2a2a;left:365.9px;transform-origin:0 0;-webkit-text-stroke:1.6px #2a2a2a">Mitchell Admin</div>
<div class="t" style="top:413.4px;font-size:26px;color:#aaa;left:390.5px;transform-origin:0 0;">- now</div>
<div class="t" style="top:418.45px;font-size:33px;color:#5f5f5f;left:365.9px;transform-origin:0 0;">Extra line with [E-COM08] Storage Box</div>
<div class="abs" style="left:351px;top:424px;width:182px;height:1px;background:repeating-linear-gradient(90deg,#e6e6e6 0 1px,transparent 1px 2px)"></div>
<div class="abs" style="left:351px;top:431px;width:80px;height:1px;background:repeating-linear-gradient(90deg,#e8e8e8 0 1px,transparent 1px 2px)"></div>
<div class="abs" style="left:452px;top:431px;width:81px;height:1px;background:repeating-linear-gradient(90deg,#e8e8e8 0 1px,transparent 1px 2px)"></div>
<div class="t" style="top:429.9px;font-size:34px;color:#222;font-weight:700;left:-4558.4px;width:10000px;text-align:center;transform-origin:50% 0;">Yesterday</div>
<div class="abs" style="left:353.2px;top:440.9px;width:8.2px;height:8.2px;border-radius:50%;background:#fff;border:0.7px solid #8a4a7a"></div>
<div class="t" style="top:444.3px;font-size:22px;color:#8a4a7a;left:-4642.7px;width:10000px;text-align:center;transform-origin:50% 0;">••</div>
<div class="abs" style="left:359.1px;top:447px;width:2.4px;height:2.4px;border-radius:50%;background:#0f96a6;border:0.4px solid #fff"></div>
<div class="t" style="top:441.35px;font-size:33px;color:#2a2a2a;left:365.9px;transform-origin:0 0;-webkit-text-stroke:1.6px #2a2a2a">OdooBot</div>
<div class="t" style="top:441.7px;font-size:26px;color:#aaa;left:380.2px;transform-origin:0 0;">- a day ago</div>
<div class="t" style="top:446.85px;font-size:33px;color:#5f5f5f;left:365.9px;transform-origin:0 0;">Sales Order created</div>
<div class="abs" style="left:351px;top:452px;width:182px;height:1px;background:repeating-linear-gradient(90deg,#e6e6e6 0 1px,transparent 1px 2px)"></div>
<div class="abs" style="left:590px;top:251.5px;width:509.2px;height:285.5px;background:#f8f8f8;border-radius:5px;box-shadow:0 0 0 0.7px #f4dede,0 0 0 3.2px #ededed,0 1px 4px 4px rgba(0,0,0,0.045),0 3px 6px 2px rgba(0,0,0,0.035)"></div>
<div class="abs" style="left:590px;top:251px;width:21.2px;height:286.6px;background:#0f96a6;border-radius:7px 2.5px 2.5px 7px"></div>
<svg class="abs" style="left:592px;top:255px" width="18" height="18" viewBox="0 0 18 18"><g fill="none" stroke="#e6f6f7" stroke-width="0.8" stroke-linecap="round" stroke-linejoin="round"><rect x="5.4" y="3.1" width="8.6" height="2.7" rx="1.35" transform="rotate(-4 9.7 4.45)"/><rect x="2.4" y="7.2" width="12.4" height="2.7" rx="1.35" transform="rotate(17 8.6 8.55)"/><rect x="4" y="12.4" width="8.4" height="2.6" rx="1.3" transform="rotate(-4 8.2 13.7)"/></g></svg>
<div class="abs" style="left:594.1px;top:278.4px;width:12.6px;height:12.6px;border-radius:50%;background:radial-gradient(ellipse 42% 50% at 50% 55%,#ecdcd6 0,#dcbcae 45%,rgba(200,150,120,0) 100%),linear-gradient(180deg,rgba(45,28,20,.85) 0,rgba(45,28,20,0) 32%),radial-gradient(circle at 50% 50%,#b97e5c 0,#a36a4b 60%,#6a4030 100%)"></div>
<svg class="abs" style="left:596.3px;top:312.2px" width="8" height="8" viewBox="-4 -4 8 8"><path fill="none" stroke="#fff" stroke-width="0.7" stroke-linecap="round" stroke-linejoin="round" d="M-2 0.5 A2 2 0 1 1 2 0.5 V2 H-2 Z"/></svg>
<svg class="abs" style="left:596.3px;top:325.2px" width="8" height="8" viewBox="-4 -4 8 8"><path fill="none" stroke="#fff" stroke-width="0.7" stroke-linecap="round" stroke-linejoin="round" d="M-2.2 -1.8 H2.2 L1 0.2 V2 L-1 1 V0.2 Z"/></svg>
<svg class="abs" style="left:596.3px;top:337.9px" width="8" height="8" viewBox="-4 -4 8 8"><rect fill="none" stroke="#fff" stroke-width="0.7" stroke-linecap="round" stroke-linejoin="round" x="-2" y="-2" width="4" height="4" rx="0.6"/><path fill="none" stroke="#fff" stroke-width="0.7" stroke-linecap="round" stroke-linejoin="round" d="M-2 -0.6 H2"/></svg>
<svg class="abs" style="left:596.3px;top:348.7px" width="8" height="8" viewBox="-4 -4 8 8"><rect fill="none" stroke="#fff" stroke-width="0.7" stroke-linecap="round" stroke-linejoin="round" x="-1.8" y="-2.2" width="3.6" height="4.4" rx="0.6"/><path fill="none" stroke="#fff" stroke-width="0.7" stroke-linecap="round" stroke-linejoin="round" d="M-0.8 -0.6 H0.8 M-0.8 0.6 H0.8"/></svg>
<svg class="abs" style="left:596.3px;top:359.5px" width="8" height="8" viewBox="-4 -4 8 8"><path fill="none" stroke="#fff" stroke-width="0.7" stroke-linecap="round" stroke-linejoin="round" d="M0 2 L-2.2 -0.2 A1.2 1.2 0 0 1 0 -1.8 A1.2 1.2 0 0 1 2.2 -0.2 Z"/></svg>
<div class="abs" style="left:594.3px;top:370px;width:12.2px;height:8.6px;background:rgba(255,255,255,0.18);border-radius:2.5px"></div>
<svg class="abs" style="left:596.3px;top:370.3px" width="8" height="8" viewBox="-4 -4 8 8"><path fill="none" stroke="#fff" stroke-width="0.7" stroke-linecap="round" stroke-linejoin="round" d="M-2 -2 V2 H2 M-1 1 L0 -0.2 L0.6 0.4 L1.8 -1"/></svg>
<svg class="abs" style="left:596.3px;top:380.6px" width="8" height="8" viewBox="-4 -4 8 8"><rect fill="none" stroke="#fff" stroke-width="0.7" stroke-linecap="round" stroke-linejoin="round" x="-2" y="-2" width="4" height="4" rx="0.5"/><path fill="none" stroke="#fff" stroke-width="0.7" stroke-linecap="round" stroke-linejoin="round" d="M-2 0 H2"/></svg>
<svg class="abs" style="left:596.3px;top:391.3px" width="8" height="8" viewBox="-4 -4 8 8"><rect fill="none" stroke="#fff" stroke-width="0.7" stroke-linecap="round" stroke-linejoin="round" x="-2" y="-1.8" width="4" height="3.6" rx="0.5"/><path fill="none" stroke="#fff" stroke-width="0.7" stroke-linecap="round" stroke-linejoin="round" d="M0 -1.8 V1.8 M-2 0 H2"/></svg>
<svg class="abs" style="left:596.3px;top:401.8px" width="8" height="8" viewBox="-4 -4 8 8"><path fill="none" stroke="#fff" stroke-width="0.7" stroke-linecap="round" stroke-linejoin="round" d="M-2 -2 L2 2 M2 -2 L-2 2 M-2 -2 L-1 -2 M2 -2 L1 -2"/></svg>
<svg class="abs" style="left:596.3px;top:412.3px" width="8" height="8" viewBox="-4 -4 8 8"><rect fill="none" stroke="#fff" stroke-width="0.7" stroke-linecap="round" stroke-linejoin="round" x="-2" y="-1.8" width="4" height="3.6" rx="0.4"/><path fill="none" stroke="#fff" stroke-width="0.7" stroke-linecap="round" stroke-linejoin="round" d="M-0.6 -1.8 V1.8"/></svg>
<svg class="abs" style="left:596.3px;top:422.8px" width="8" height="8" viewBox="-4 -4 8 8"><path fill="none" stroke="#fff" stroke-width="0.7" stroke-linecap="round" stroke-linejoin="round" d="M-1.6 -2.2 H0.8 L1.8 -1.2 V2.2 H-1.6 Z M-0.6 0 H0.8 M-0.6 1 H0.8"/></svg>
<svg class="abs" style="left:596.3px;top:433.6px" width="8" height="8" viewBox="-4 -4 8 8"><circle fill="none" stroke="#fff" stroke-width="0.7" stroke-linecap="round" stroke-linejoin="round" cx="0" cy="-1" r="1.1"/><path fill="none" stroke="#fff" stroke-width="0.7" stroke-linecap="round" stroke-linejoin="round" d="M-2.2 2.2 C-2 0.4 2 0.4 2.2 2.2 M-1.8 -2 L-2.4 -1"/></svg>
<svg class="abs" style="left:596.3px;top:444.2px" width="8" height="8" viewBox="-4 -4 8 8"><circle fill="none" stroke="#fff" stroke-width="0.7" stroke-linecap="round" stroke-linejoin="round" cx="0" cy="-1" r="1.2"/><path fill="none" stroke="#fff" stroke-width="0.7" stroke-linecap="round" stroke-linejoin="round" d="M-2 2.2 C-1.8 0.5 1.8 0.5 2 2.2"/></svg>
<svg class="abs" style="left:596.3px;top:454.4px" width="8" height="8" viewBox="-4 -4 8 8"><rect fill="none" stroke="#fff" stroke-width="0.7" stroke-linecap="round" stroke-linejoin="round" x="-2" y="-2" width="1.7" height="1.7" rx="0.4"/><rect fill="none" stroke="#fff" stroke-width="0.7" stroke-linecap="round" stroke-linejoin="round" x="0.3" y="-2" width="1.7" height="1.7" rx="0.4"/><rect fill="none" stroke="#fff" stroke-width="0.7" stroke-linecap="round" stroke-linejoin="round" x="-2" y="0.3" width="1.7" height="1.7" rx="0.4"/><rect fill="none" stroke="#fff" stroke-width="0.7" stroke-linecap="round" stroke-linejoin="round" x="0.3" y="0.3" width="1.7" height="1.7" rx="0.4"/></svg>
<svg class="abs" style="left:596.3px;top:465.2px" width="8" height="8" viewBox="-4 -4 8 8"><circle fill="none" stroke="#fff" stroke-width="0.7" stroke-linecap="round" stroke-linejoin="round" cx="0" cy="0" r="1.9"/><circle fill="none" stroke="#fff" stroke-width="0.7" stroke-linecap="round" stroke-linejoin="round" cx="0" cy="0" r="0.7"/></svg>
<div class="abs" style="left:1087px;top:361.4px;width:12.8px;height:10.5px;background:#0f96a6;border-radius:3px 0 0 3px"></div>
<svg class="abs" style="left:1089.6px;top:362.65px" width="8" height="8" viewBox="-4 -4 8 8"><path fill="none" stroke="#fff" stroke-width="0.7" stroke-linejoin="round" stroke-linecap="round" d="M0 -2.3 L0.7 -0.7 L2.3 -0.6 L1.1 0.5 L1.5 2.2 L0 1.3 L-1.5 2.2 L-1.1 0.5 L-2.3 -0.6 L-0.7 -0.7 Z"/></svg>
<div class="abs" style="left:1087px;top:374.9px;width:12.8px;height:10px;background:#0f96a6;border-radius:3px 0 0 3px"></div>
<svg class="abs" style="left:1089.6px;top:375.9px" width="8" height="8" viewBox="-4 -4 8 8"><circle fill="none" stroke="#fff" stroke-width="0.7" stroke-linejoin="round" stroke-linecap="round" cx="-0.2" cy="-0.2" r="1.6"/><path fill="none" stroke="#fff" stroke-width="0.7" stroke-linejoin="round" stroke-linecap="round" d="M1 1 L2 2"/></svg>
<div class="abs" style="left:1087px;top:388.2px;width:12.8px;height:10px;background:#0f96a6;border-radius:3px 0 0 3px"></div>
<svg class="abs" style="left:1089.6px;top:389.2px" width="8" height="8" viewBox="-4 -4 8 8"><path fill="none" stroke="#fff" stroke-width="0.7" stroke-linejoin="round" stroke-linecap="round" d="M-2 -0.8 V-2 H-0.8 M0.8 -2 H2 V-0.8 M2 0.8 V2 H0.8 M-0.8 2 H-2 V0.8"/></svg>
<div class="abs" style="left:1087px;top:401.2px;width:12.8px;height:10.4px;background:#0f96a6;border-radius:3px 0 0 3px"></div>
<svg class="abs" style="left:1089.6px;top:402.4px" width="8" height="8" viewBox="-4 -4 8 8"><circle fill="none" stroke="#fff" stroke-width="0.7" stroke-linejoin="round" stroke-linecap="round" cx="-0.3" cy="-0.3" r="1.7"/><path fill="none" stroke="#fff" stroke-width="0.7" stroke-linejoin="round" stroke-linecap="round" d="M1 1 L2.1 2.1 M-1 -0.3 H0.4"/></svg>
<div class="abs" style="left:1087px;top:414.4px;width:12.8px;height:10.4px;background:#0f96a6;border-radius:3px 0 0 3px"></div>
<svg class="abs" style="left:1089.6px;top:415.6px" width="8" height="8" viewBox="-4 -4 8 8"><rect fill="none" stroke="#fff" stroke-width="0.7" stroke-linejoin="round" stroke-linecap="round" x="-2" y="-2" width="4" height="4" rx="0.4"/><path fill="none" stroke="#fff" stroke-width="0.7" stroke-linejoin="round" stroke-linecap="round" d="M0 -2 V2 M-2 0 H2"/></svg>
<div class="t" style="top:257.85px;font-size:69px;color:#333;left:615.3px;transform-origin:0 0;transform:scale(0.1)">Quotations</div>
<div class="abs" style="left:615.4px;top:270.2px;width:22.2px;height:9px;background:#0f96a6;border-radius:3px;border-radius:3px"></div>
<div class="t" style="top:273.05px;font-size:35px;color:#fff;font-weight:700;left:-4373.5px;width:10000px;text-align:center;transform-origin:50% 0;">+ Create</div>
<div class="abs" style="left:640.4px;top:270.2px;width:25.6px;height:9px;background:#fff;border-radius:3px;box-shadow:0 0.3px 1.2px rgba(0,0,0,0.1)"></div>
<div class="t" style="top:273.05px;font-size:35px;color:#5f5f5f;left:-4346.8px;width:10000px;text-align:center;transform-origin:50% 0;">↓ Export All</div>
<div class="abs" style="left:850.4px;top:256.4px;width:233.6px;height:9.3px;background:#fff;border-radius:3px"></div>
<div class="abs" style="left:851px;top:257px;width:7.3px;height:8px;background:#0f96a6;border-radius:2px 0 0 2px"></div>
<svg class="abs" style="left:852.6px;top:258.9px" width="4" height="4" viewBox="0 0 4 4"><path d="M0.2 0.3 H3.8 L2.4 2 V3.8 L1.6 3.3 V2 Z" fill="#fff"/></svg>
<div class="t" style="top:259.55px;font-size:33px;color:#5f5f5f;left:859.8px;transform-origin:0 0;">My Quotations</div>
<div class="abs" style="left:884.4px;top:260.2px;width:1.8px;height:1.8px;background:#0f96a6"></div>
<div class="t" style="top:259.55px;font-size:33px;color:#5f5f5f;left:892.2px;transform-origin:0 0;">Search...</div>
<svg class="abs" style="left:1077px;top:259.2px" width="4" height="4" viewBox="0 0 4 4"><circle cx="1.7" cy="1.7" r="1.3" stroke="#888" stroke-width="0.5" fill="none"/><path d="M2.7 2.7 L3.7 3.7" stroke="#888" stroke-width="0.5"/></svg>
<div class="abs" style="left:874.6px;top:270.7px;width:21.3px;height:8.1px;background:#fff;border-radius:3px;box-shadow:0 0.3px 1.2px rgba(0,0,0,0.1)"></div>
<div class="t" style="top:273.1px;font-size:34px;color:#5f5f5f;left:-4114.75px;width:10000px;text-align:center;transform-origin:50% 0;">▼ Filters</div>
<div class="abs" style="left:898.4px;top:270.7px;width:27px;height:8.1px;background:#fff;border-radius:3px;box-shadow:0 0.3px 1.2px rgba(0,0,0,0.1)"></div>
<div class="t" style="top:273.1px;font-size:34px;color:#5f5f5f;left:-4088.1px;width:10000px;text-align:center;transform-origin:50% 0;">≡ Group By</div>
<div class="abs" style="left:928.2px;top:270.7px;width:24.8px;height:8.1px;background:#fff;border-radius:3px;box-shadow:0 0.3px 1.2px rgba(0,0,0,0.1)"></div>
<div class="t" style="top:273.1px;font-size:34px;color:#5f5f5f;left:-4059.4px;width:10000px;text-align:center;transform-origin:50% 0;">◊ Favorites</div>
<div class="abs" style="left:957px;top:270.1px;width:11px;height:9px;background:#0f96a6;border-radius:3px;"></div>
<svg class="abs" style="left:959.5px;top:271.6px" width="6" height="6" viewBox="0 0 6 6"><path d="M0.6 3 C1.5 1.1 2.2 0.6 3 0.6 C3.8 0.6 4.5 1.1 5.4 3 C4.5 4.9 3.8 5.4 3 5.4 C2.2 5.4 1.5 4.9 0.6 3 Z" fill="none" stroke="#e8f6f7" stroke-width="0.75"/><ellipse cx="3" cy="3" rx="0.5" ry="1.3" fill="#e8f6f7" opacity="0.5"/></svg>
<div class="t" style="top:272.95px;font-size:33px;color:#5f5f5f;left:-4022.8px;width:10000px;text-align:center;transform-origin:50% 0;">1-10 / 10</div>
<div class="abs" style="left:987px;top:270.1px;width:8.9px;height:9px;background:#fff;border-radius:3px;box-shadow:0 0.3px 1.2px rgba(0,0,0,0.1)"></div>
<svg class="abs" style="left:990px;top:273.1px" width="3" height="3" viewBox="0 0 3 3"><path d="M2.6 1.5 H0.4 M1.4 0.5 L0.4 1.5 L1.4 2.5" fill="none" stroke="#444" stroke-width="0.45"/></svg>
<div class="abs" style="left:999.2px;top:270.1px;width:9.1px;height:9px;background:#fff;border-radius:3px;box-shadow:0 0.3px 1.2px rgba(0,0,0,0.1)"></div>
<svg class="abs" style="left:1002.3px;top:273.1px" width="3" height="3" viewBox="0 0 3 3"><path d="M0.4 1.5 H2.6 M1.6 0.5 L2.6 1.5 L1.6 2.5" fill="none" stroke="#444" stroke-width="0.45"/></svg>
<div class="abs" style="left:1011.1px;top:269.9px;width:11px;height:9.3px;background:#0f96a6;border-radius:3px;"></div>
<svg class="abs" style="left:1014.1px;top:272.1px" width="5" height="5" viewBox="0 0 5 5"><rect x="0.3" y="0.3" width="4.4" height="4.4" rx="0.5" fill="#fff"/><path d="M0.3 2.5 H4.7 M2.5 0.3 V4.7" stroke="#0f96a6" stroke-width="0.45"/></svg>
<div class="abs" style="left:1024.2px;top:269.9px;width:9.6px;height:9.3px;background:#fff;border-radius:3px;box-shadow:0 0.3px 1.2px rgba(0,0,0,0.1)"></div>
<svg class="abs" style="left:1026.5px;top:272.1px" width="5" height="5" viewBox="0 0 5 5"><rect x="0.3" y="0.3" width="1.9" height="1.9" fill="#222"/><rect x="2.8" y="0.3" width="1.9" height="1.9" fill="#222"/><rect x="0.3" y="2.8" width="1.9" height="1.9" fill="#222"/><rect x="2.8" y="2.8" width="1.9" height="1.9" fill="#222"/></svg>
<div class="abs" style="left:1036.3px;top:269.9px;width:9.6px;height:9.3px;background:#fff;border-radius:3px;box-shadow:0 0.3px 1.2px rgba(0,0,0,0.1)"></div>
<svg class="abs" style="left:1038.6px;top:272.1px" width="5" height="5" viewBox="0 0 5 5"><rect x="0.5" y="0.8" width="4" height="3.8" rx="0.4" fill="none" stroke="#333" stroke-width="0.5"/><path d="M0.5 1.8 H4.5" stroke="#333" stroke-width="0.6"/></svg>
<div class="abs" style="left:1048.4px;top:269.9px;width:9.6px;height:9.3px;background:#fff;border-radius:3px;box-shadow:0 0.3px 1.2px rgba(0,0,0,0.1)"></div>
<svg class="abs" style="left:1050.7px;top:272.1px" width="5" height="5" viewBox="0 0 5 5"><rect x="0.5" y="0.6" width="4" height="4" rx="0.4" fill="none" stroke="#333" stroke-width="0.5"/><path d="M0.5 2.2 H4.5 M0.5 3.4 H4.5" stroke="#333" stroke-width="0.4"/></svg>
<div class="abs" style="left:1061.1px;top:269.9px;width:9.6px;height:9.3px;background:#fff;border-radius:3px;box-shadow:0 0.3px 1.2px rgba(0,0,0,0.1)"></div>
<svg class="abs" style="left:1063.4px;top:272.1px" width="5" height="5" viewBox="0 0 5 5"><path d="M0.4 0.4 V4.6 H4.6" stroke="#333" stroke-width="0.5" fill="none"/><path d="M1.2 4.4 V2.6 M2.2 4.4 V1.8 M3.2 4.4 V2.8 M4.2 4.4 V1.2" stroke="#333" stroke-width="0.6"/></svg>
<div class="abs" style="left:1073.9px;top:269.9px;width:9.5px;height:9.3px;background:#fff;border-radius:3px;box-shadow:0 0.3px 1.2px rgba(0,0,0,0.1)"></div>
<svg class="abs" style="left:1076.15px;top:272.1px" width="5" height="5" viewBox="0 0 5 5"><path d="M1.6 4.6 V1.2 A0.5 0.5 0 0 1 2.6 1.2 V2.6 L3.8 2.8 C4.4 3 4.2 4 4 4.6 Z" fill="none" stroke="#333" stroke-width="0.45"/></svg>
<div class="abs" style="left:619.05px;top:289.15px;width:4.9px;height:4.9px;border-radius:50%;border:0.6px solid #8ccad1"></div>
<div class="t" style="top:290px;font-size:32px;color:#5f5f5f;left:626.9px;transform-origin:0 0;">Number ↕</div>
<div class="t" style="top:290px;font-size:32px;color:#5f5f5f;left:656.2px;transform-origin:0 0;">Customer ↕</div>
<div class="t" style="top:290px;font-size:32px;color:#5f5f5f;left:728.8px;transform-origin:0 0;">Salesperson ↕</div>
<div class="t" style="top:290px;font-size:32px;color:#5f5f5f;left:779.4px;transform-origin:0 0;">Next Activity</div>
<div class="t" style="top:290px;font-size:32px;color:#5f5f5f;left:865px;transform-origin:0 0;">Sales Team ↕</div>
<div class="t" style="top:290px;font-size:32px;color:#5f5f5f;right:189.7px;transform-origin:100% 0;">Untaxed Amount ↕</div>
<div class="t" style="top:290px;font-size:32px;color:#5f5f5f;right:146.6px;transform-origin:100% 0;">Taxes ↕</div>
<div class="t" style="top:290px;font-size:32px;color:#5f5f5f;right:102.9px;transform-origin:100% 0;">Total ↕</div>
<div class="t" style="top:290px;font-size:32px;color:#5f5f5f;left:1038.9px;transform-origin:0 0;">Status ↕</div>
<svg class="abs" style="left:1081.4px;top:289.6px" width="2" height="4" viewBox="0 0 2 4"><circle cx="1" cy="0.6" r="0.42" fill="#333"/><circle cx="1" cy="2" r="0.42" fill="#333"/><circle cx="1" cy="3.4" r="0.42" fill="#333"/></svg>
<div class="abs" style="left:615px;top:298.8px;width:469px;height:15.5px;background:#fff;border-radius:4px;box-shadow:0 0.5px 0.8px rgba(0,0,0,0.04)"></div>
<div class="abs" style="left:618px;top:315px;width:464px;height:1px;background:repeating-linear-gradient(90deg,#e6e6e6 0 1px,transparent 1px 2px)"></div>
<div class="abs" style="left:619.05px;top:303.85px;width:4.9px;height:4.9px;border-radius:50%;border:0.6px solid #8ccad1"></div>
<div class="t" style="top:304.88px;font-size:32.5px;color:#1a9aab;font-weight:700;left:627.1px;transform-origin:0 0;">S00027</div>
<div class="t" style="top:304.88px;font-size:32.5px;color:#5f5f5f;left:656.2px;transform-origin:0 0;">Deco Addict, Addison Olson</div>
<div class="abs" style="left:728.5px;top:304px;width:5px;height:5px;border-radius:50%;background:radial-gradient(circle at 50% 58%,#c49a84 0,#96624a 45%,#5a3a2c 80%,#3a2820 100%)"></div>
<div class="t" style="top:304.8px;font-size:34px;color:#5f5f5f;left:735.2px;transform-origin:0 0;">Mitchell Admin</div>
<svg class="abs" style="left:779.7px;top:304px" width="5" height="5" viewBox="0 0 5 5"><rect x="0.4" y="0.8" width="4.2" height="3.8" rx="0.5" fill="#f0a04b"/><path d="M1.2 0.3 V1.4 M3.8 0.3 V1.4" stroke="#d9534f" stroke-width="0.6"/><rect x="1.2" y="2.2" width="2.6" height="1.8" fill="#fff" opacity="0.7"/></svg>
<div class="t" style="top:304.88px;font-size:32.5px;color:#5f5f5f;left:786.4px;transform-origin:0 0;">Meeting</div>
<div class="t" style="top:304.88px;font-size:32.5px;color:#5f5f5f;left:864.9px;transform-origin:0 0;">Europe</div>
<div class="t" style="top:304.88px;font-size:32.5px;color:#5f5f5f;right:189.8px;transform-origin:100% 0;">$ 1,876.00</div>
<div class="t" style="top:304.88px;font-size:32.5px;color:#5f5f5f;right:146.3px;transform-origin:100% 0;">$ 0.00</div>
<div class="t" style="top:304.88px;font-size:32.5px;color:#222;font-weight:700;right:102.8px;transform-origin:100% 0;">$ 1,876.00</div>
<div class="abs" style="left:1039.4px;top:304px;width:19.68px;height:5px;border:0.5px solid #b5dfe3;border-radius:2.5px;background:#fff"></div>
<div class="t" style="top:305.15px;font-size:27px;color:#1597a4;left:-3950.76px;width:10000px;text-align:center;transform-origin:50% 0;">Quotation</div>
<div class="abs" style="left:615px;top:318.3px;width:469px;height:15.5px;background:#fff;border-radius:4px;box-shadow:0 0.5px 0.8px rgba(0,0,0,0.04)"></div>
<div class="abs" style="left:618px;top:334px;width:464px;height:1px;background:repeating-linear-gradient(90deg,#e6e6e6 0 1px,transparent 1px 2px)"></div>
<div class="abs" style="left:619.05px;top:323.35px;width:4.9px;height:4.9px;border-radius:50%;border:0.6px solid #8ccad1"></div>
<div class="t" style="top:324.38px;font-size:32.5px;color:#1a9aab;font-weight:700;left:627.1px;transform-origin:0 0;">S00026</div>
<div class="t" style="top:324.38px;font-size:32.5px;color:#5f5f5f;left:656.2px;transform-origin:0 0;">Azure Interior, Nicole Ford</div>
<div class="abs" style="left:728.5px;top:323.5px;width:5px;height:5px;border-radius:50%;background:radial-gradient(circle at 50% 58%,#c49a84 0,#96624a 45%,#5a3a2c 80%,#3a2820 100%)"></div>
<div class="t" style="top:324.3px;font-size:34px;color:#5f5f5f;left:735.2px;transform-origin:0 0;">Mitchell Admin</div>
<svg class="abs" style="left:779.7px;top:323.5px" width="5" height="5" viewBox="0 0 5 5"><path d="M1 0.6 L2 0.6 L2.4 1.8 L1.8 2.3 C2.2 3 2.6 3.4 3.2 3.7 L3.7 3.1 L4.6 3.5 L4.5 4.5 C2.4 4.6 0.6 2.8 1 0.6 Z" fill="#2e9f5a"/></svg>
<div class="t" style="top:324.38px;font-size:32.5px;color:#5f5f5f;left:786.4px;transform-origin:0 0;">Call</div>
<div class="t" style="top:324.38px;font-size:32.5px;color:#5f5f5f;left:864.9px;transform-origin:0 0;">Europe</div>
<div class="t" style="top:324.38px;font-size:32.5px;color:#5f5f5f;right:189.8px;transform-origin:100% 0;">$ 320.00</div>
<div class="t" style="top:324.38px;font-size:32.5px;color:#5f5f5f;right:146.3px;transform-origin:100% 0;">$ 0.00</div>
<div class="t" style="top:324.38px;font-size:32.5px;color:#222;font-weight:700;right:102.8px;transform-origin:100% 0;">$ 320.00</div>
<div class="abs" style="left:1039.4px;top:323.5px;width:19.68px;height:5px;border:0.5px solid #b5dfe3;border-radius:2.5px;background:#fff"></div>
<div class="t" style="top:324.65px;font-size:27px;color:#1597a4;left:-3950.76px;width:10000px;text-align:center;transform-origin:50% 0;">Quotation</div>
<div class="abs" style="left:615px;top:337.6px;width:469px;height:15.5px;background:#fff;border-radius:4px;box-shadow:0 0.5px 0.8px rgba(0,0,0,0.04)"></div>
<div class="abs" style="left:618px;top:353px;width:464px;height:1px;background:repeating-linear-gradient(90deg,#e6e6e6 0 1px,transparent 1px 2px)"></div>
<div class="abs" style="left:619.05px;top:342.65px;width:4.9px;height:4.9px;border-radius:50%;border:0.6px solid #8ccad1"></div>
<div class="t" style="top:343.68px;font-size:32.5px;color:#1a9aab;font-weight:700;left:627.1px;transform-origin:0 0;">S00025</div>
<div class="t" style="top:343.68px;font-size:32.5px;color:#5f5f5f;left:656.2px;transform-origin:0 0;">Azure Interior</div>
<div class="abs" style="left:728.5px;top:342.8px;width:5px;height:5px;border-radius:50%;background:radial-gradient(circle at 50% 58%,#c49a84 0,#96624a 45%,#5a3a2c 80%,#3a2820 100%)"></div>
<div class="t" style="top:343.6px;font-size:34px;color:#5f5f5f;left:735.2px;transform-origin:0 0;">Mitchell Admin</div>
<svg class="abs" style="left:779.7px;top:342.8px" width="5" height="5" viewBox="0 0 5 5"><path d="M0.5 0.5 V4.5 H4.6" stroke="#3a8f5a" stroke-width="0.6" fill="none"/><path d="M1.2 3.6 L2.4 2.2 L3.2 3 L4.6 1" stroke="#f0a04b" stroke-width="0.7" fill="none"/></svg>
<div class="t" style="top:343.68px;font-size:32.5px;color:#5f5f5f;left:786.4px;transform-origin:0 0;">Order Upsell</div>
<div class="t" style="top:343.68px;font-size:32.5px;color:#5f5f5f;left:864.9px;transform-origin:0 0;">Europe</div>
<div class="t" style="top:343.68px;font-size:32.5px;color:#5f5f5f;right:189.8px;transform-origin:100% 0;">$ 546.00</div>
<div class="t" style="top:343.68px;font-size:32.5px;color:#5f5f5f;right:146.3px;transform-origin:100% 0;">$ 0.00</div>
<div class="t" style="top:343.68px;font-size:32.5px;color:#222;font-weight:700;right:102.8px;transform-origin:100% 0;">$ 546.00</div>
<div class="abs" style="left:1039.4px;top:342.8px;width:19.68px;height:5px;border:0.5px solid #b5dfe3;border-radius:2.5px;background:#fff"></div>
<div class="t" style="top:343.95px;font-size:27px;color:#1597a4;left:-3950.76px;width:10000px;text-align:center;transform-origin:50% 0;">Quotation</div>
<div class="abs" style="left:615px;top:370.8px;width:469px;height:15.5px;background:#fff;border-radius:4px;box-shadow:0 0.5px 0.8px rgba(0,0,0,0.04)"></div>
<div class="abs" style="left:618px;top:387px;width:464px;height:1px;background:repeating-linear-gradient(90deg,#e6e6e6 0 1px,transparent 1px 2px)"></div>
<div class="abs" style="left:619.05px;top:375.85px;width:4.9px;height:4.9px;border-radius:50%;border:0.6px solid #8ccad1"></div>
<div class="t" style="top:376.88px;font-size:32.5px;color:#1a9aab;font-weight:700;left:627.1px;transform-origin:0 0;">S00007</div>
<div class="t" style="top:376.88px;font-size:32.5px;color:#5f5f5f;left:656.2px;transform-origin:0 0;">Gemini Furniture</div>
<div class="abs" style="left:728.5px;top:376px;width:5px;height:5px;border-radius:50%;background:radial-gradient(circle at 50% 58%,#c49a84 0,#96624a 45%,#5a3a2c 80%,#3a2820 100%)"></div>
<div class="t" style="top:376.8px;font-size:34px;color:#5f5f5f;left:735.2px;transform-origin:0 0;">Mitchell Admin</div>
<svg class="abs" style="left:779.7px;top:376px" width="5" height="5" viewBox="0 0 5 5"><rect x="0.5" y="0.9" width="4" height="3.7" rx="0.5" fill="none" stroke="#3a9a6a" stroke-width="0.6"/><path d="M0.5 2 H4.5" stroke="#3a9a6a" stroke-width="0.7"/></svg>
<div class="t" style="top:376.88px;font-size:32.5px;color:#5f5f5f;left:786.4px;transform-origin:0 0;">Check delivery requirements</div>
<div class="t" style="top:376.88px;font-size:32.5px;color:#5f5f5f;left:864.9px;transform-origin:0 0;">Europe</div>
<div class="t" style="top:376.88px;font-size:32.5px;color:#5f5f5f;right:189.8px;transform-origin:100% 0;">15,060.00 €</div>
<div class="t" style="top:376.88px;font-size:32.5px;color:#5f5f5f;right:146.3px;transform-origin:100% 0;">0.00 €</div>
<div class="t" style="top:376.88px;font-size:32.5px;color:#222;font-weight:700;right:102.8px;transform-origin:100% 0;">15,060.00 €</div>
<div class="abs" style="left:1039.4px;top:376px;width:23.12px;height:5px;border:0.5px solid #bfe6cb;border-radius:2.5px;background:#fff"></div>
<div class="t" style="top:377.15px;font-size:27px;color:#29a35a;left:-3949.04px;width:10000px;text-align:center;transform-origin:50% 0;">Sales Order</div>
<div class="abs" style="left:615px;top:404.5px;width:469px;height:15.5px;background:#fff;border-radius:4px;box-shadow:0 0.5px 0.8px rgba(0,0,0,0.04)"></div>
<div class="abs" style="left:618px;top:420px;width:464px;height:1px;background:repeating-linear-gradient(90deg,#e6e6e6 0 1px,transparent 1px 2px)"></div>
<div class="abs" style="left:619.05px;top:409.55px;width:4.9px;height:4.9px;border-radius:50%;border:0.6px solid #8ccad1"></div>
<div class="t" style="top:410.57px;font-size:32.5px;color:#1a9aab;font-weight:700;left:627.1px;transform-origin:0 0;">S00006</div>
<div class="t" style="top:410.57px;font-size:32.5px;color:#5f5f5f;left:656.2px;transform-origin:0 0;">Lumber Inc</div>
<div class="abs" style="left:728.5px;top:409.7px;width:5px;height:5px;border-radius:50%;background:radial-gradient(circle at 50% 58%,#c49a84 0,#96624a 45%,#5a3a2c 80%,#3a2820 100%)"></div>
<div class="t" style="top:410.5px;font-size:34px;color:#5f5f5f;left:735.2px;transform-origin:0 0;">Mitchell Admin</div>
<svg class="abs" style="left:779.7px;top:409.7px" width="5" height="5" viewBox="0 0 5 5"><rect x="0.5" y="0.9" width="4" height="3.7" rx="0.5" fill="none" stroke="#3a9a6a" stroke-width="0.6"/><path d="M0.5 2 H4.5" stroke="#3a9a6a" stroke-width="0.7"/></svg>
<div class="t" style="top:410.57px;font-size:32.5px;color:#5f5f5f;left:786.4px;transform-origin:0 0;">To Do</div>
<div class="t" style="top:410.57px;font-size:32.5px;color:#5f5f5f;left:864.9px;transform-origin:0 0;">America</div>
<div class="t" style="top:410.57px;font-size:32.5px;color:#5f5f5f;right:189.8px;transform-origin:100% 0;">750.00 €</div>
<div class="t" style="top:410.57px;font-size:32.5px;color:#5f5f5f;right:146.3px;transform-origin:100% 0;">0.00 €</div>
<div class="t" style="top:410.57px;font-size:32.5px;color:#222;font-weight:700;right:102.8px;transform-origin:100% 0;">750.00 €</div>
<div class="abs" style="left:1039.4px;top:409.7px;width:23.12px;height:5px;border:0.5px solid #bfe6cb;border-radius:2.5px;background:#fff"></div>
<div class="t" style="top:410.85px;font-size:27px;color:#29a35a;left:-3949.04px;width:10000px;text-align:center;transform-origin:50% 0;">Sales Order</div>
<div class="abs" style="left:615px;top:423.9px;width:469px;height:15.5px;background:#fff;border-radius:4px;box-shadow:0 0.5px 0.8px rgba(0,0,0,0.04)"></div>
<div class="abs" style="left:618px;top:440px;width:464px;height:1px;background:repeating-linear-gradient(90deg,#e6e6e6 0 1px,transparent 1px 2px)"></div>
<div class="abs" style="left:619.05px;top:428.95px;width:4.9px;height:4.9px;border-radius:50%;border:0.6px solid #8ccad1"></div>
<div class="t" style="top:429.98px;font-size:32.5px;color:#1a9aab;font-weight:700;left:627.1px;transform-origin:0 0;">S00004</div>
<div class="t" style="top:429.98px;font-size:32.5px;color:#5f5f5f;left:656.2px;transform-origin:0 0;">Gemini Furniture</div>
<div class="abs" style="left:728.5px;top:429.1px;width:5px;height:5px;border-radius:50%;background:radial-gradient(circle at 50% 58%,#c49a84 0,#96624a 45%,#5a3a2c 80%,#3a2820 100%)"></div>
<div class="t" style="top:429.9px;font-size:34px;color:#5f5f5f;left:735.2px;transform-origin:0 0;">Mitchell Admin</div>
<svg class="abs" style="left:779.7px;top:429.1px" width="5" height="5" viewBox="0 0 5 5"><path d="M0.5 0.5 V4.5 H4.6" stroke="#3a8f5a" stroke-width="0.6" fill="none"/><path d="M1.2 3.6 L2.4 2.2 L3.2 3 L4.6 1" stroke="#f0a04b" stroke-width="0.7" fill="none"/></svg>
<div class="t" style="top:429.98px;font-size:32.5px;color:#5f5f5f;left:786.4px;transform-origin:0 0;">Order Upsell</div>
<div class="t" style="top:429.98px;font-size:32.5px;color:#5f5f5f;left:864.9px;transform-origin:0 0;">Europe</div>
<div class="t" style="top:429.98px;font-size:32.5px;color:#5f5f5f;right:189.8px;transform-origin:100% 0;">2,240.00 €</div>
<div class="t" style="top:429.98px;font-size:32.5px;color:#5f5f5f;right:146.3px;transform-origin:100% 0;">0.00 €</div>
<div class="t" style="top:429.98px;font-size:32.5px;color:#222;font-weight:700;right:102.8px;transform-origin:100% 0;">2,240.00 €</div>
<div class="abs" style="left:1039.4px;top:429.1px;width:23.12px;height:5px;border:0.5px solid #bfe6cb;border-radius:2.5px;background:#fff"></div>
<div class="t" style="top:430.25px;font-size:27px;color:#29a35a;left:-3949.04px;width:10000px;text-align:center;transform-origin:50% 0;">Sales Order</div>
<div class="abs" style="left:615px;top:443.2px;width:469px;height:15.5px;background:#fff;border-radius:4px;box-shadow:0 0.5px 0.8px rgba(0,0,0,0.04)"></div>
<div class="abs" style="left:618px;top:459px;width:464px;height:1px;background:repeating-linear-gradient(90deg,#e6e6e6 0 1px,transparent 1px 2px)"></div>
<div class="abs" style="left:619.05px;top:448.25px;width:4.9px;height:4.9px;border-radius:50%;border:0.6px solid #8ccad1"></div>
<div class="t" style="top:449.27px;font-size:32.5px;color:#1a9aab;font-weight:700;left:627.1px;transform-origin:0 0;">S00003</div>
<div class="t" style="top:449.27px;font-size:32.5px;color:#5f5f5f;left:656.2px;transform-origin:0 0;">Ready Mat</div>
<div class="abs" style="left:728.5px;top:448.4px;width:5px;height:5px;border-radius:50%;background:radial-gradient(circle at 50% 58%,#c49a84 0,#96624a 45%,#5a3a2c 80%,#3a2820 100%)"></div>
<div class="t" style="top:449.2px;font-size:34px;color:#5f5f5f;left:735.2px;transform-origin:0 0;">Mitchell Admin</div>
<svg class="abs" style="left:779.7px;top:448.4px" width="5" height="5" viewBox="0 0 5 5"><rect x="0.5" y="0.6" width="4" height="4" rx="0.5" fill="#d9534f"/><path d="M1.2 1.8 H3.8 M1.2 3 H3.8 M2.5 0.6 V4.6" stroke="#fff" stroke-width="0.5"/></svg>
<div class="t" style="top:449.27px;font-size:32.5px;color:#5f5f5f;left:786.4px;transform-origin:0 0;">Answer questions</div>
<div class="t" style="top:449.27px;font-size:32.5px;color:#5f5f5f;left:864.9px;transform-origin:0 0;">Europe</div>
<div class="t" style="top:449.27px;font-size:32.5px;color:#5f5f5f;right:189.8px;transform-origin:100% 0;">377.50 €</div>
<div class="t" style="top:449.27px;font-size:32.5px;color:#5f5f5f;right:146.3px;transform-origin:100% 0;">0.00 €</div>
<div class="t" style="top:449.27px;font-size:32.5px;color:#222;font-weight:700;right:102.8px;transform-origin:100% 0;">377.50 €</div>
<div class="abs" style="left:1039.4px;top:448.4px;width:19.68px;height:5px;border:0.5px solid #b5dfe3;border-radius:2.5px;background:#fff"></div>
<div class="t" style="top:449.55px;font-size:27px;color:#1597a4;left:-3950.76px;width:10000px;text-align:center;transform-origin:50% 0;">Quotation</div>
<div class="abs" style="left:615px;top:462.6px;width:469px;height:15.5px;background:#fff;border-radius:4px;box-shadow:0 0.5px 0.8px rgba(0,0,0,0.04)"></div>
<div class="abs" style="left:618px;top:478px;width:464px;height:1px;background:repeating-linear-gradient(90deg,#e6e6e6 0 1px,transparent 1px 2px)"></div>
<div class="abs" style="left:619.05px;top:467.65px;width:4.9px;height:4.9px;border-radius:50%;border:0.6px solid #8ccad1"></div>
<div class="t" style="top:468.68px;font-size:32.5px;color:#1a9aab;font-weight:700;left:627.1px;transform-origin:0 0;">S00019</div>
<div class="t" style="top:468.68px;font-size:32.5px;color:#5f5f5f;left:656.2px;transform-origin:0 0;">YourCompany, Joel Willis</div>
<div class="abs" style="left:728.5px;top:467.8px;width:5px;height:5px;border-radius:50%;background:radial-gradient(circle at 50% 58%,#c49a84 0,#96624a 45%,#5a3a2c 80%,#3a2820 100%)"></div>
<div class="t" style="top:468.6px;font-size:34px;color:#5f5f5f;left:735.2px;transform-origin:0 0;">Mitchell Admin</div>
<svg class="abs" style="left:779.7px;top:467.8px" width="5" height="5" viewBox="0 0 5 5"><path d="M0.5 0.5 V4.5 H4.6" stroke="#3a8f5a" stroke-width="0.6" fill="none"/><path d="M1.2 3.6 L2.4 2.2 L3.2 3 L4.6 1" stroke="#f0a04b" stroke-width="0.7" fill="none"/></svg>
<div class="t" style="top:468.68px;font-size:32.5px;color:#5f5f5f;left:786.4px;transform-origin:0 0;">Order Upsell</div>
<div class="t" style="top:468.68px;font-size:32.5px;color:#5f5f5f;left:864.9px;transform-origin:0 0;">Europe</div>
<div class="t" style="top:468.68px;font-size:32.5px;color:#5f5f5f;right:189.8px;transform-origin:100% 0;">2,947.50 €</div>
<div class="t" style="top:468.68px;font-size:32.5px;color:#5f5f5f;right:146.3px;transform-origin:100% 0;">0.00 €</div>
<div class="t" style="top:468.68px;font-size:32.5px;color:#222;font-weight:700;right:102.8px;transform-origin:100% 0;">2,947.50 €</div>
<div class="abs" style="left:1039.4px;top:467.8px;width:23.12px;height:5px;border:0.5px solid #bfe6cb;border-radius:2.5px;background:#fff"></div>
<div class="t" style="top:468.95px;font-size:27px;color:#29a35a;left:-3949.04px;width:10000px;text-align:center;transform-origin:50% 0;">Sales Order</div>
<div class="abs" style="left:615px;top:482px;width:469px;height:15.5px;background:#fff;border-radius:4px;box-shadow:0 0.5px 0.8px rgba(0,0,0,0.04)"></div>
<div class="abs" style="left:618px;top:498px;width:464px;height:1px;background:repeating-linear-gradient(90deg,#e6e6e6 0 1px,transparent 1px 2px)"></div>
<div class="abs" style="left:619.05px;top:487.05px;width:4.9px;height:4.9px;border-radius:50%;border:0.6px solid #8ccad1"></div>
<div class="t" style="top:488.07px;font-size:32.5px;color:#1a9aab;font-weight:700;left:627.1px;transform-origin:0 0;">S00018</div>
<div class="t" style="top:488.07px;font-size:32.5px;color:#5f5f5f;left:656.2px;transform-origin:0 0;">YourCompany, Joel Willis</div>
<div class="abs" style="left:728.5px;top:487.2px;width:5px;height:5px;border-radius:50%;background:radial-gradient(circle at 50% 58%,#c49a84 0,#96624a 45%,#5a3a2c 80%,#3a2820 100%)"></div>
<div class="t" style="top:488px;font-size:34px;color:#5f5f5f;left:735.2px;transform-origin:0 0;">Mitchell Admin</div>
<svg class="abs" style="left:779.7px;top:487.2px" width="5" height="5" viewBox="0 0 5 5"><rect x="0.5" y="0.9" width="4" height="3.7" rx="0.5" fill="none" stroke="#3a9a6a" stroke-width="0.6"/><path d="M0.5 2 H4.5" stroke="#3a9a6a" stroke-width="0.7"/></svg>
<div class="t" style="top:488.07px;font-size:32.5px;color:#5f5f5f;left:786.4px;transform-origin:0 0;">Get quote confirmation</div>
<div class="t" style="top:488.07px;font-size:32.5px;color:#5f5f5f;left:864.9px;transform-origin:0 0;">Europe</div>
<div class="t" style="top:488.07px;font-size:32.5px;color:#5f5f5f;right:189.8px;transform-origin:100% 0;">9,705.00 €</div>
<div class="t" style="top:488.07px;font-size:32.5px;color:#5f5f5f;right:146.3px;transform-origin:100% 0;">0.00 €</div>
<div class="t" style="top:488.07px;font-size:32.5px;color:#222;font-weight:700;right:102.8px;transform-origin:100% 0;">9,705.00 €</div>
<div class="abs" style="left:1039.4px;top:487.2px;width:28.28px;height:5px;border:0.5px solid #b5dfe3;border-radius:2.5px;background:#fff"></div>
<div class="t" style="top:488.35px;font-size:27px;color:#1597a4;left:-3946.46px;width:10000px;text-align:center;transform-origin:50% 0;">Quotation Sent</div>
<div class="abs" style="left:615px;top:501.4px;width:469px;height:15.5px;background:#fff;border-radius:4px;box-shadow:0 0.5px 0.8px rgba(0,0,0,0.04)"></div>
<div class="abs" style="left:618px;top:517px;width:464px;height:1px;background:repeating-linear-gradient(90deg,#e6e6e6 0 1px,transparent 1px 2px)"></div>
<div class="abs" style="left:619.05px;top:506.45px;width:4.9px;height:4.9px;border-radius:50%;border:0.6px solid #8ccad1"></div>
<div class="t" style="top:507.48px;font-size:32.5px;color:#1a9aab;font-weight:700;left:627.1px;transform-origin:0 0;">S00002</div>
<div class="t" style="top:507.48px;font-size:32.5px;color:#5f5f5f;left:656.2px;transform-origin:0 0;">Ready Mat</div>
<div class="abs" style="left:728.5px;top:506.6px;width:5px;height:5px;border-radius:50%;background:radial-gradient(circle at 50% 58%,#c49a84 0,#96624a 45%,#5a3a2c 80%,#3a2820 100%)"></div>
<div class="t" style="top:507.4px;font-size:34px;color:#5f5f5f;left:735.2px;transform-origin:0 0;">Mitchell Admin</div>
<svg class="abs" style="left:779.7px;top:506.6px" width="5" height="5" viewBox="0 0 5 5"><path d="M0.5 0.5 V4.5 H4.6" stroke="#3a8f5a" stroke-width="0.6" fill="none"/><path d="M1.2 3.6 L2.4 2.2 L3.2 3 L4.6 1" stroke="#f0a04b" stroke-width="0.7" fill="none"/></svg>
<div class="t" style="top:507.48px;font-size:32.5px;color:#5f5f5f;left:786.4px;transform-origin:0 0;">Order Upsell</div>
<div class="t" style="top:507.48px;font-size:32.5px;color:#5f5f5f;left:864.9px;transform-origin:0 0;">Europe</div>
<div class="t" style="top:507.48px;font-size:32.5px;color:#5f5f5f;right:189.8px;transform-origin:100% 0;">2,947.50 €</div>
<div class="t" style="top:507.48px;font-size:32.5px;color:#5f5f5f;right:146.3px;transform-origin:100% 0;">0.00 €</div>
<div class="t" style="top:507.48px;font-size:32.5px;color:#222;font-weight:700;right:102.8px;transform-origin:100% 0;">2,947.50 €</div>
<div class="abs" style="left:1039.4px;top:506.6px;width:19.68px;height:5px;border:0.5px solid #b5dfe3;border-radius:2.5px;background:#fff"></div>
<div class="t" style="top:507.75px;font-size:27px;color:#1597a4;left:-3950.76px;width:10000px;text-align:center;transform-origin:50% 0;">Quotation</div>
<div class="abs" style="left:770.8px;top:357.4px;width:50px;height:9.2px;background:#fff;border-radius:4px;box-shadow:0 0 0 0.4px #eee"></div>
<svg class="abs" style="left:772.1px;top:359.1px" width="5.8" height="5.8" viewBox="0 0 5.8 5.8"><svg viewBox="0 0 7 7" width="5.8" height="5.8"><rect x="0.3" y="0.3" width="6.4" height="6.4" rx="0.8" fill="#3d8fb0"/><path d="M0.3 5 L2.5 3 L4 4.4 L5.2 3.4 L6.7 4.8 V6.7 H0.3 Z" fill="#7ec8a0"/><circle cx="4.8" cy="1.9" r="0.8" fill="#fff"/></svg></svg>
<div class="t" style="top:360.4px;font-size:32px;color:#5f5f5f;left:780.3px;transform-origin:0 0;">[FURN_0096] Customi...</div>
<div class="abs" style="left:825px;top:357.4px;width:50px;height:9.2px;background:#fff;border-radius:4px;box-shadow:0 0 0 0.4px #eee"></div>
<svg class="abs" style="left:826.3px;top:359.1px" width="5.8" height="5.8" viewBox="0 0 10 10"><rect x="0.5" y="0.5" width="9" height="9" rx="1" fill="#fff" stroke="#d06a5e" stroke-width="0.9"/><path d="M5 2 C4.4 3.6 3.6 5.4 2.4 7.2 M5 2 C5.2 4 6.2 5.8 7.8 6.6 M2.8 6.3 C4 5.8 6 5.6 7.6 6.2" fill="none" stroke="#c8584a" stroke-width="0.8" stroke-linecap="round"/></svg>
<div class="t" style="top:360.4px;font-size:32px;color:#5f5f5f;left:834.5px;transform-origin:0 0;">Quotation - S00023.pdf</div>
<div class="abs" style="left:879.2px;top:357.4px;width:50px;height:9.2px;background:#fff;border-radius:4px;box-shadow:0 0 0 0.4px #eee"></div>
<svg class="abs" style="left:880.5px;top:359.1px" width="5.8" height="5.8" viewBox="0 0 10 10"><rect x="0.5" y="0.5" width="9" height="9" rx="1" fill="#fff" stroke="#d06a5e" stroke-width="0.9"/><path d="M5 2 C4.4 3.6 3.6 5.4 2.4 7.2 M5 2 C5.2 4 6.2 5.8 7.8 6.6 M2.8 6.3 C4 5.8 6 5.6 7.6 6.2" fill="none" stroke="#c8584a" stroke-width="0.8" stroke-linecap="round"/></svg>
<div class="t" style="top:360.4px;font-size:32px;color:#5f5f5f;left:888.7px;transform-origin:0 0;">Order - S00015.pdf</div>
<div class="abs" style="left:770.8px;top:390.4px;width:50px;height:9.2px;background:#fff;border-radius:4px;box-shadow:0 0 0 0.4px #eee"></div>
<svg class="abs" style="left:772.1px;top:392.1px" width="5.8" height="5.8" viewBox="0 0 10 10"><rect x="0.5" y="0.5" width="9" height="9" rx="1" fill="#fff" stroke="#d06a5e" stroke-width="0.9"/><path d="M5 2 C4.4 3.6 3.6 5.4 2.4 7.2 M5 2 C5.2 4 6.2 5.8 7.8 6.6 M2.8 6.3 C4 5.8 6 5.6 7.6 6.2" fill="none" stroke="#c8584a" stroke-width="0.8" stroke-linecap="round"/></svg>
<div class="t" style="top:393.4px;font-size:32px;color:#5f5f5f;left:780.3px;transform-origin:0 0;">Quotation - S00023.pdf</div>
<div class="abs" style="left:825px;top:390.4px;width:50px;height:9.2px;background:#fff;border-radius:4px;box-shadow:0 0 0 0.4px #eee"></div>
<svg class="abs" style="left:826.3px;top:392.1px" width="5.8" height="5.8" viewBox="0 0 10 10"><rect x="0.5" y="0.5" width="9" height="9" rx="1" fill="#fff" stroke="#d06a5e" stroke-width="0.9"/><path d="M5 2 C4.4 3.6 3.6 5.4 2.4 7.2 M5 2 C5.2 4 6.2 5.8 7.8 6.6 M2.8 6.3 C4 5.8 6 5.6 7.6 6.2" fill="none" stroke="#c8584a" stroke-width="0.8" stroke-linecap="round"/></svg>
<div class="t" style="top:393.4px;font-size:32px;color:#5f5f5f;left:834.5px;transform-origin:0 0;">Quotation - S00010.pdf</div>
<div class="abs" style="left:879.2px;top:390.4px;width:50px;height:9.2px;background:#fff;border-radius:4px;box-shadow:0 0 0 0.4px #eee"></div>
<svg class="abs" style="left:880.5px;top:392.1px" width="5.8" height="5.8" viewBox="0 0 10 10"><rect x="0.5" y="0.5" width="9" height="9" rx="1" fill="#fff" stroke="#d06a5e" stroke-width="0.9"/><path d="M5 2 C4.4 3.6 3.6 5.4 2.4 7.2 M5 2 C5.2 4 6.2 5.8 7.8 6.6 M2.8 6.3 C4 5.8 6 5.6 7.6 6.2" fill="none" stroke="#c8584a" stroke-width="0.8" stroke-linecap="round"/></svg>
<div class="t" style="top:393.4px;font-size:32px;color:#5f5f5f;left:888.7px;transform-origin:0 0;">Order - S00007.pdf</div>
<svg class="abs" style="left:931.8px;top:364.2px" width="5" height="6.5" viewBox="0 0 5 6.5"><path d="M1.6 5.8 L0.5 3.6 C0.3 3.1 1 2.8 1.3 3.3 L1.7 3.9 V0.8 C1.7 0.3 2.5 0.3 2.5 0.8 V2.8 L4.1 3.1 C4.6 3.2 4.7 3.6 4.6 4 L4.1 5.8 Z" fill="#fff" stroke="#444" stroke-width="0.45"/></svg>
<div class="t" style="top:526.05px;font-size:33px;color:#1a9aab;font-weight:700;right:189.8px;transform-origin:100% 0;">36,771.50</div>
<div class="t" style="top:526.05px;font-size:33px;color:#1a9aab;font-weight:700;right:146.3px;transform-origin:100% 0;">0.00</div>
<div class="t" style="top:526.05px;font-size:33px;color:#1a9aab;font-weight:700;right:102.8px;transform-origin:100% 0;">36,771.50</div>
</div>
</body></html>
